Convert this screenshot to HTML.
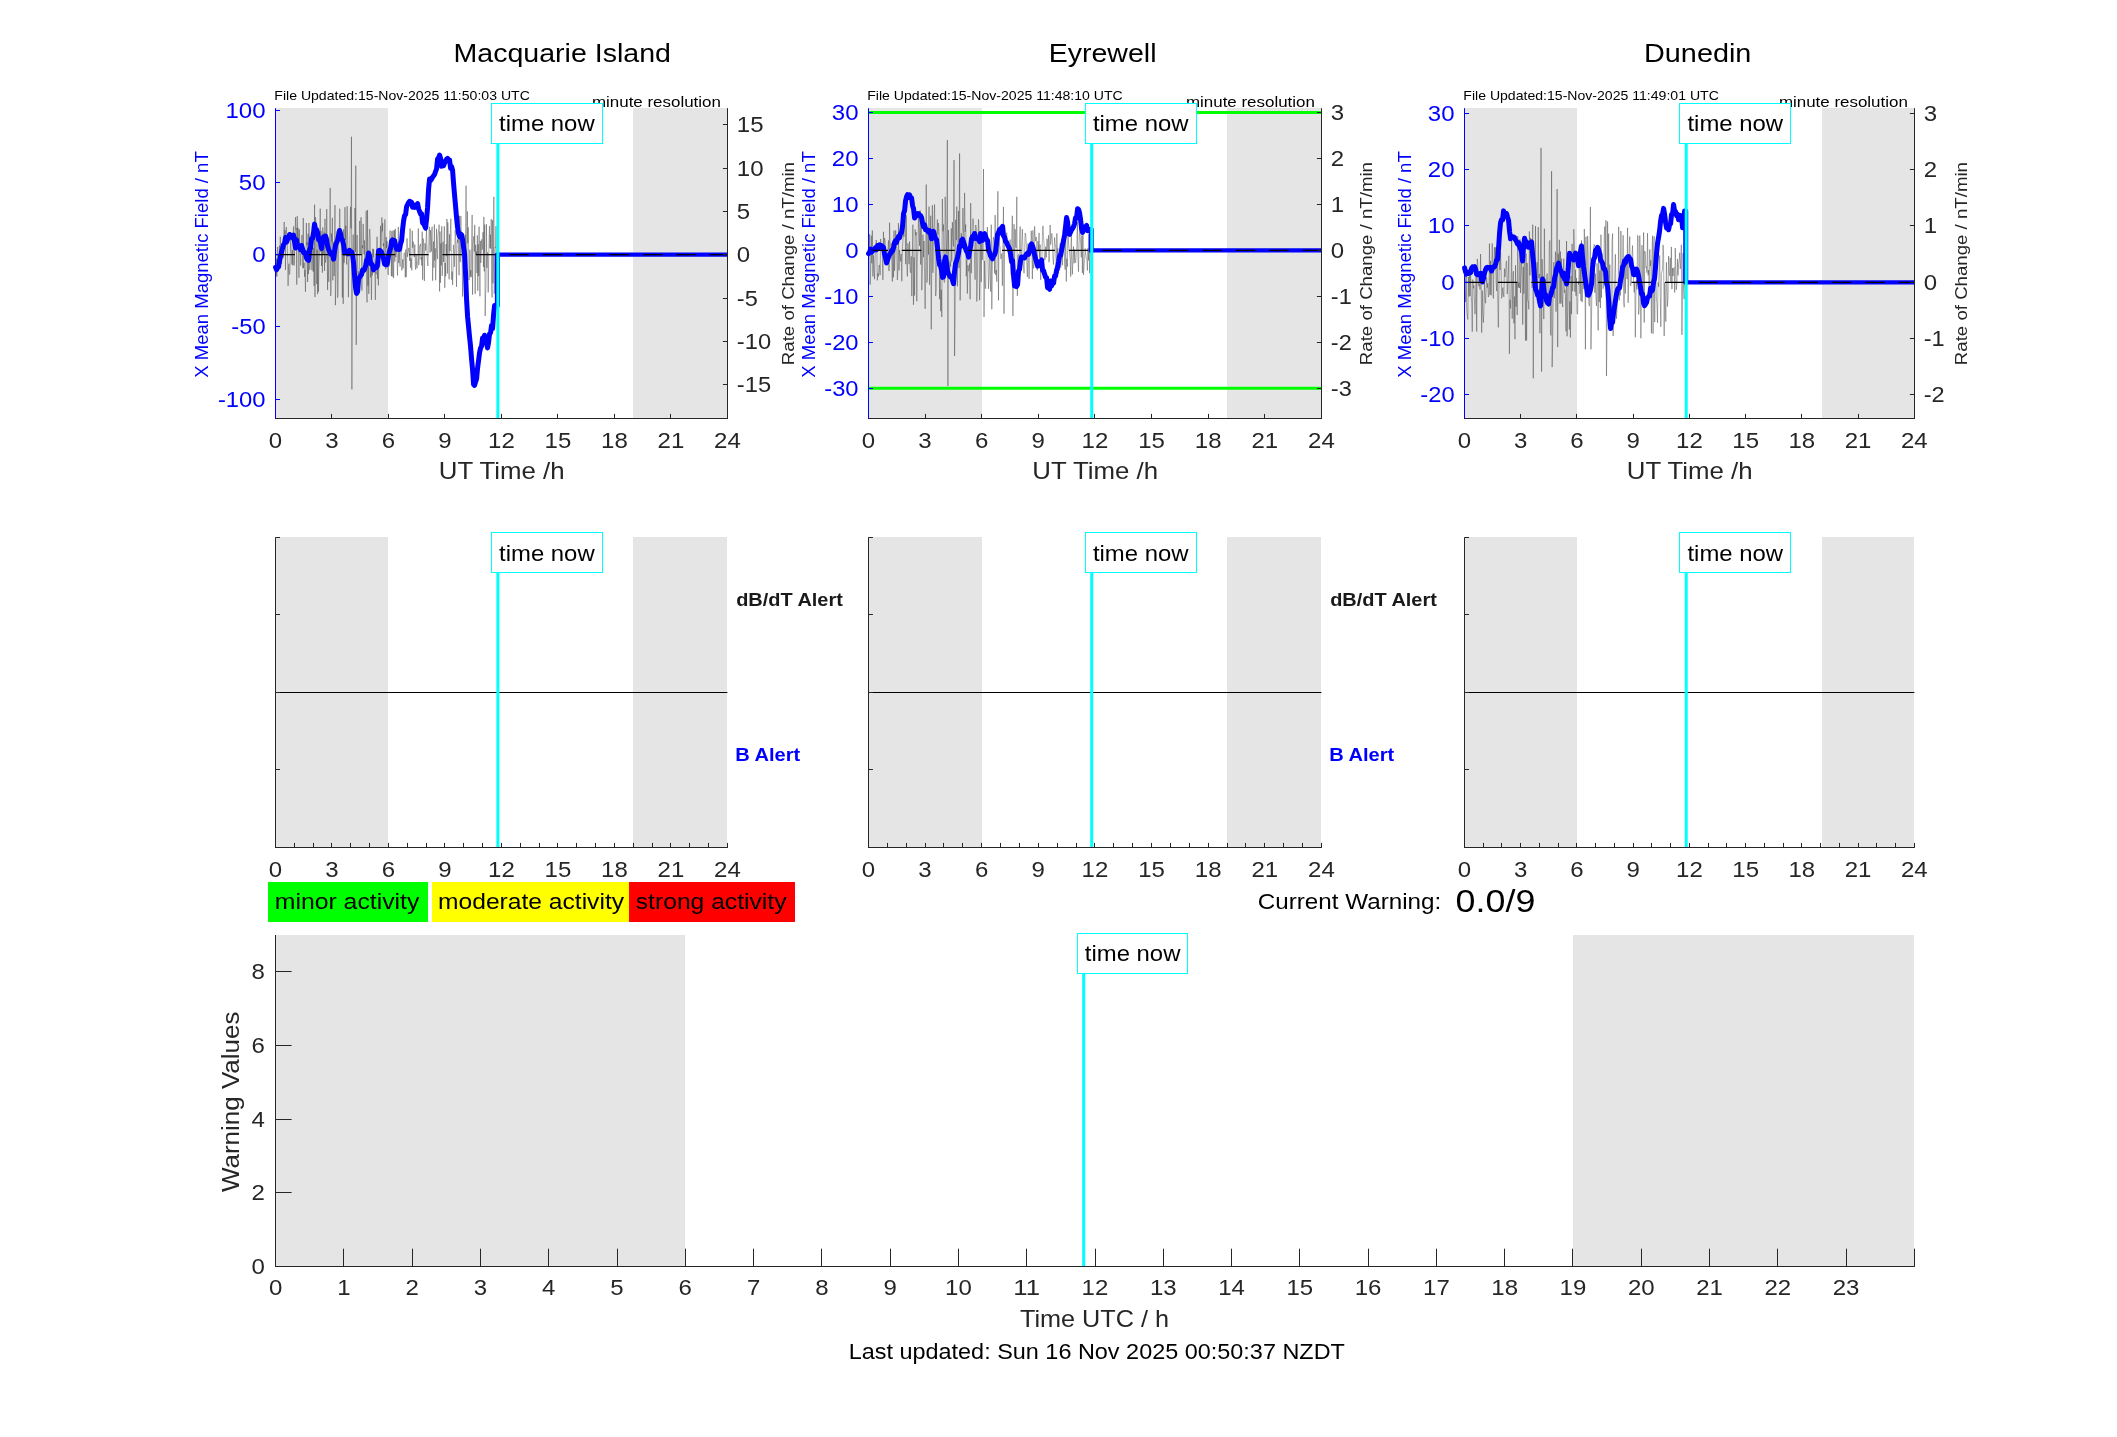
<!DOCTYPE html>
<html><head><meta charset="utf-8"><style>
html,body{margin:0;padding:0;background:#fff;overflow:hidden}
svg{display:block;will-change:transform}
text{font-family:"Liberation Sans",sans-serif}
</style></head><body>
<svg width="2117" height="1437" viewBox="0 0 2117 1437">
<rect x="0" y="0" width="2117" height="1437" fill="#ffffff"/>
<rect x="276" y="108" width="112" height="310" fill="#e5e5e5" stroke="none" stroke-width="0"/>
<rect x="633" y="108" width="94" height="310" fill="#e5e5e5" stroke="none" stroke-width="0"/>
<path d="M275.5 249.85 L275.93 276.48 L276.37 258.71 L276.8 276.5 L277.24 250.67 L277.67 247 L278.1 267.37 L278.54 259.48 L278.97 255.37 L279.41 245.55 L279.84 264.31 L280.27 236.71 L280.71 252.95 L281.14 256.44 L281.58 263.98 L282.01 246.11 L282.45 246.22 L282.88 252.1 L283.31 257.78 L283.75 237.64 L284.18 222.02 L284.62 248.87 L285.05 230.26 L285.48 269.91 L285.92 231.54 L286.35 227.03 L286.79 241.07 L287.22 238.14 L287.65 258.17 L288.09 285.92 L288.52 266.27 L288.96 263.67 L289.39 274.6 L289.82 273.36 L290.26 256.17 L290.69 235.86 L291.13 249.86 L291.56 253.86 L291.99 264.62 L292.43 250.12 L292.86 265.32 L293.3 230.18 L293.73 226.31 L294.16 265.35 L294.6 250.34 L295.03 244.84 L295.47 217.25 L295.9 229.68 L296.34 228.16 L296.77 284.64 L297.2 216.15 L297.64 240.76 L298.07 227.82 L298.51 236.3 L298.94 277.71 L299.37 229.38 L299.81 245.95 L300.24 247.17 L300.68 265.55 L301.11 249.94 L301.54 240.44 L301.98 234.9 L302.41 245.75 L302.85 268.24 L303.28 218.06 L303.71 267.9 L304.15 262.83 L304.58 276.81 L305.02 269.78 L305.45 291.7 L305.88 265.93 L306.32 222.99 L306.75 244.99 L307.19 242.28 L307.62 282.03 L308.05 233.75 L308.49 274.05 L308.92 222.96 L309.36 240.03 L309.79 269.79 L310.23 260.66 L310.66 256.94 L311.09 258.38 L311.53 240.62 L311.96 270.25 L312.4 225.51 L312.83 254.7 L313.26 271.74 L313.7 247.79 L314.13 285.88 L314.57 204.64 L315 297.03 L315.43 217.13 L315.87 221.87 L316.3 226.4 L316.74 284.07 L317.17 249.96 L317.6 294.09 L318.04 234.53 L318.47 291.71 L318.91 266.24 L319.34 257.97 L319.77 245.75 L320.21 208.59 L320.64 251.57 L321.08 230.89 L321.51 265.96 L321.94 248.77 L322.38 272.7 L322.81 227.39 L323.25 253.95 L323.68 241.19 L324.12 232.47 L324.55 270.93 L324.98 218.86 L325.42 262.63 L325.85 260.32 L326.29 256.31 L326.72 209.08 L327.15 249.91 L327.59 289.91 L328.02 237.71 L328.46 276.38 L328.89 281.91 L329.32 242.84 L329.76 235.86 L330.19 187.94 L330.63 295.92 L331.06 292.71 L331.49 233.56 L331.93 242.06 L332.36 217.82 L332.8 280.32 L333.23 242.1 L333.66 254.05 L334.1 276.09 L334.53 265.77 L334.97 205.02 L335.4 305.17 L335.83 285.44 L336.27 260.23 L336.7 254.77 L337.14 231.09 L337.57 297.73 L338.01 294.84 L338.44 257.16 L338.87 231.78 L339.31 233.6 L339.74 208.67 L340.18 236.45 L340.61 229.63 L341.04 238.26 L341.48 253.63 L341.91 256.45 L342.35 297.46 L342.78 239.74 L343.21 303.93 L343.65 229.3 L344.08 263.13 L344.52 255.48 L344.95 207.16 L345.38 240.19 L345.82 225.72 L346.25 251.81 L346.69 264.54 L347.12 206.21 L347.55 236.76 L347.99 248.11 L348.42 297.22 L348.86 263.91 L349.29 257.21 L349.72 250.28 L350.16 222.58 L350.59 206.95 L351.03 228.4 L351.46 136.73 L351.9 389.42 L352.33 258.68 L352.76 248.09 L353.2 234.55 L353.63 253.62 L354.07 254.61 L354.5 253.25 L354.93 207.92 L355.37 252.1 L355.8 165.68 L356.24 344.9 L356.67 271.52 L357.1 234.97 L357.54 262.82 L357.97 283.48 L358.41 271.34 L358.84 289.2 L359.27 275.14 L359.71 220.93 L360.14 252.13 L360.58 253.69 L361.01 217.32 L361.44 230.56 L361.88 290.64 L362.31 245.33 L362.75 248.19 L363.18 223.93 L363.61 243.85 L364.05 254.34 L364.48 240.41 L364.92 272.34 L365.35 253.28 L365.79 251.36 L366.22 210.73 L366.65 290.47 L367.09 302.36 L367.52 210.09 L367.96 285.76 L368.39 254.13 L368.82 293.85 L369.26 239.49 L369.69 228.94 L370.13 235.95 L370.56 277.48 L370.99 258.6 L371.43 300.01 L371.86 265.63 L372.3 275.47 L372.73 248.7 L373.16 257.13 L373.6 249.19 L374.03 259.11 L374.47 264.47 L374.9 272.46 L375.33 299.82 L375.77 271.93 L376.2 274.16 L376.64 263.99 L377.07 236.75 L377.5 278.87 L377.94 258.88 L378.37 285.45 L378.81 266.39 L379.24 249.6 L379.68 267.35 L380.11 255.3 L380.54 225.78 L380.98 257.25 L381.41 236.54 L381.85 217.45 L382.28 231.41 L382.71 223.23 L383.15 246.16 L383.58 243.37 L384.02 260.15 L384.45 237.87 L384.88 219.39 L385.32 242.09 L385.75 269.15 L386.19 236.99 L386.62 247.88 L387.05 240.99 L387.49 256.59 L387.92 273.63 L388.36 275.06 L388.79 260.78 L389.22 266.22 L389.66 238.04 L390.09 230.44 L390.53 250.53 L390.96 248 L391.39 276.08 L391.83 231.11 L392.26 276.64 L392.7 247.28 L393.13 230.35 L393.57 278.03 L394 253.38 L394.43 230.35 L394.87 261.69 L395.3 228.79 L395.74 257.28 L396.17 248.54 L396.6 249.2 L397.04 258.71 L397.47 275.55 L397.91 260.27 L398.34 226.94 L398.77 263.07 L399.21 252.07 L399.64 257.91 L400.08 266.61 L400.51 242.92 L400.94 240.37 L401.38 233.09 L401.81 270.47 L402.25 264.52 L402.68 259.37 L403.11 268.4 L403.55 262.72 L403.98 253.7 L404.42 252.75 L404.85 255.38 L405.29 277.37 L405.72 249.57 L406.15 277.14 L406.59 267.67 L407.02 238.37 L407.46 256.79 L407.89 252.96 L408.32 251.58 L408.76 247.86 L409.19 250.67 L409.63 260.98 L410.06 228.54 L410.49 267.79 L410.93 258.03 L411.36 259.78 L411.8 270.33 L412.23 230.71 L412.66 247.71 L413.1 241.72 L413.53 243.28 L413.97 257.06 L414.4 256.82 L414.83 244.49 L415.27 266.48 L415.7 269.6 L416.14 254.94 L416.57 265.01 L417 268.13 L417.44 262.01 L417.87 261.84 L418.31 228.41 L418.74 265.19 L419.18 258.8 L419.61 246 L420.04 246.24 L420.48 243.87 L420.91 259.45 L421.35 257.03 L421.78 265.65 L422.21 231.64 L422.65 279.64 L423.08 238.46 L423.52 241.29 L423.95 255.22 L424.38 280.91 L424.82 243.2 L425.25 243.96 L425.69 250.55 L426.12 238.97 L426.55 229.9 L426.99 255.86 L427.42 260.3 L427.86 265.98 L428.29 245.54 L428.72 245.02 L429.16 226.6 L429.59 228.16 L430.03 252.73 L430.46 230.13 L430.89 237.34 L431.33 251.56 L431.76 229.29 L432.2 226.75 L432.63 280.71 L433.07 250.79 L433.5 241.53 L433.93 267.7 L434.37 224.45 L434.8 260.47 L435.24 248.35 L435.67 280.25 L436.1 263.5 L436.54 228.77 L436.97 251.54 L437.41 259.04 L437.84 236.45 L438.27 232.62 L438.71 230.1 L439.14 224.67 L439.58 291.46 L440.01 231.51 L440.44 282.68 L440.88 243.53 L441.31 265.34 L441.75 226.29 L442.18 275.82 L442.61 267.37 L443.05 241.87 L443.48 261.9 L443.92 246.71 L444.35 226.34 L444.78 287.84 L445.22 263.05 L445.65 276.27 L446.09 244.21 L446.52 256.13 L446.96 218.97 L447.39 273.61 L447.82 222.42 L448.26 240.47 L448.69 252.59 L449.13 279.34 L449.56 234.23 L449.99 251.05 L450.43 229.83 L450.86 218.72 L451.3 253.36 L451.73 279.63 L452.16 271.56 L452.6 284.99 L453.03 270.58 L453.47 244.86 L453.9 250.43 L454.33 266.86 L454.77 250.05 L455.2 230.19 L455.64 237.6 L456.07 256.31 L456.5 286.79 L456.94 244.82 L457.37 239.37 L457.81 242.79 L458.24 239.37 L458.67 255.06 L459.11 275.34 L459.54 215.77 L459.98 261.63 L460.41 261.93 L460.85 215.95 L461.28 250.09 L461.71 255.08 L462.15 258.96 L462.58 296.55 L463.02 263.6 L463.45 246.64 L463.88 249.07 L464.32 246.53 L464.75 285.88 L465.19 234.8 L465.62 252.67 L466.05 185.71 L466.49 300.37 L466.92 284.56 L467.36 211.34 L467.79 243.23 L468.22 227.35 L468.66 252.11 L469.09 280.18 L469.53 267.43 L469.96 249.74 L470.39 276.66 L470.83 269.94 L471.26 277.24 L471.7 245.33 L472.13 214.94 L472.56 294.69 L473 243.94 L473.43 239.88 L473.87 236.11 L474.3 251.61 L474.74 224.85 L475.17 293.86 L475.6 244.85 L476.04 254.06 L476.47 251.52 L476.91 273.03 L477.34 235.36 L477.77 290.69 L478.21 244.27 L478.64 276.1 L479.08 226.7 L479.51 264.71 L479.94 296.28 L480.38 240.87 L480.81 262.9 L481.25 253.79 L481.68 239.32 L482.11 249.57 L482.55 247.11 L482.98 232.08 L483.42 266.84 L483.85 216.92 L484.28 271.45 L484.72 224.67 L485.15 315.95 L485.59 293.32 L486.02 285.16 L486.45 224.23 L486.89 267.96 L487.32 254.18 L487.76 252.12 L488.19 292.47 L488.63 266.9 L489.06 239.59 L489.49 226.1 L489.93 248.25 L490.36 234.66 L490.8 248.66 L491.23 219.02 L491.66 285.1 L492.1 297.39 L492.53 220.2 L492.97 283.31 L493.4 267.46 L493.83 196.85 L494.27 293.69 L494.7 263.18 L495.14 247.16 L495.57 247.82 L496 226.06 L496.44 271.51 L496.87 261.49" fill="none" stroke="#3c3c3c" stroke-width="0.42" stroke-linejoin="round" stroke-linecap="round" stroke-linecap="butt" stroke-linejoin="miter"/>
<path d="M275.57 267.32 L276.57 269.79 L277.57 267.59 L278.57 266.9 L279.57 260.42 L280.57 256.43 L281.57 251.87 L282.57 248.13 L283.57 244.58 L284.57 243.18 L285.57 237.54 L286.57 242.15 L287.57 239.41 L288.57 237.58 L289.57 234.47 L290.57 235.05 L291.57 237.29 L292.57 238.02 L293.57 235.14 L294.57 241.85 L295.57 248.09 L296.57 239.85 L297.57 246.39 L298.57 246.17 L299.57 246.07 L300.57 249.72 L301.57 245.49 L302.57 248.86 L303.57 252.49 L304.57 252 L305.57 254.32 L306.57 258.11 L307.57 259.77 L308.57 260.36 L309.57 249.9 L310.57 247.71 L311.57 238.53 L312.57 238.28 L313.57 232.77 L314.57 224.13 L315.57 230.5 L316.57 229.76 L317.57 232.31 L318.57 239.62 L319.57 238.76 L320.57 243.21 L321.57 248.52 L322.57 239.44 L323.57 236.86 L324.57 236.48 L325.57 236.12 L326.57 239.72 L327.57 245.84 L328.57 249.27 L329.57 251.44 L330.57 254.02 L331.57 254.37 L332.57 254.12 L333.57 259.15 L334.57 251.4 L335.57 245.17 L336.57 242.45 L337.57 240.35 L338.57 235.6 L339.57 230.43 L340.57 233.77 L341.57 239.37 L342.57 240.06 L343.57 244.78 L344.57 252.89 L345.57 250.45 L346.57 252.12 L347.57 253.77 L348.57 252.23 L349.57 250.33 L350.57 253.78 L351.57 251.99 L352.57 255 L353.57 262.82 L354.57 276.19 L355.57 287.72 L356.57 293.43 L357.57 291.73 L358.57 278.83 L359.57 277.26 L360.57 276.04 L361.57 274.45 L362.57 270.09 L363.57 270.61 L364.57 269.23 L365.57 266.09 L366.57 260.17 L367.57 260.12 L368.57 253.01 L369.57 255.65 L370.57 263.64 L371.57 263.75 L372.57 265.44 L373.57 269.87 L374.57 268.36 L375.57 267.69 L376.57 267.7 L377.57 264.11 L378.57 250.76 L379.57 250.25 L380.57 250.9 L381.57 252.25 L382.57 255.7 L383.57 258.73 L384.57 263.95 L385.57 264.63 L386.57 264.82 L387.57 262.37 L388.57 255.45 L389.57 251.13 L390.57 248.06 L391.57 241.04 L392.57 239.84 L393.57 241.62 L394.57 240.63 L395.57 245.39 L396.57 249.21 L397.57 248.6 L398.57 249.51 L399.57 249.41 L400.57 243.62 L401.57 240.94 L402.57 229.59 L403.57 220.98 L404.57 215.54 L405.57 214.67 L406.57 206.79 L407.57 204.56 L408.57 202.5 L409.57 201.26 L410.57 201.84 L411.57 202.29 L412.57 207.17 L413.57 205 L414.57 207.39 L415.57 205.16 L416.57 205.79 L417.57 203.57 L418.57 208.74 L419.57 211.51 L420.57 214.04 L421.57 213.75 L422.57 222.84 L423.57 223.77 L424.57 225.74 L425.57 228.09 L426.57 219.3 L427.57 207.5 L428.57 189.33 L429.57 179.11 L430.57 180.43 L431.57 179.15 L432.57 177.16 L433.57 175.79 L434.57 174.29 L435.57 171.5 L436.57 168.85 L437.57 159.01 L438.57 157.91 L439.57 155 L440.57 158.53 L441.57 166.33 L442.57 164.06 L443.57 165.55 L444.57 162.92 L445.57 160.59 L446.57 159.15 L447.57 158.29 L448.57 160.79 L449.57 160.05 L450.57 168.2 L451.57 166.56 L452.57 170.08 L453.57 183.55 L454.57 195.14 L455.57 206.17 L456.57 217.86 L457.57 227.42 L458.57 233.57 L459.57 236.88 L460.57 233.92 L461.57 234.81 L462.57 239.56 L463.57 247.17 L464.57 254.01 L465.57 274.24 L466.57 299.54 L467.57 316.52 L468.57 326.66 L469.57 336.9 L470.57 346.59 L471.57 359.07 L472.57 369.82 L473.57 384.4 L474.57 385.37 L475.57 381.81 L476.57 379.01 L477.57 368.08 L478.57 360.45 L479.57 352.53 L480.57 348.09 L481.57 346.12 L482.57 338.14 L483.57 338.82 L484.57 335.25 L485.57 340.09 L486.57 343.37 L487.57 347.89 L488.57 342.32 L489.57 333.81 L490.57 332.77 L491.57 325.41 L492.57 328.54 L493.57 314.63 L494.57 305.55 L497.37 305.55 L497.37 254.7" fill="none" stroke="#0000ff" stroke-width="5" stroke-linejoin="round" stroke-linecap="round" />
<line x1="497.37" y1="254.7" x2="727.4" y2="254.7" stroke="#0000ff" stroke-width="4.3" />
<line x1="275.5" y1="254.7" x2="727.4" y2="254.7" stroke="#000000" stroke-width="1.3" stroke-dasharray="19.5 13.9"/>
<line x1="497.87" y1="143.2" x2="497.87" y2="418.4" stroke="#00ffff" stroke-width="3" />
<line x1="275" y1="418.5" x2="727.9" y2="418.5" stroke="#262626" stroke-width="1" />
<line x1="727.5" y1="108.2" x2="727.5" y2="418.4" stroke="#262626" stroke-width="1" />
<line x1="275.5" y1="110.5" x2="280" y2="110.5" stroke="#0000ff" stroke-width="1" />
<text x="265.6" y="117.78" font-size="22.9" fill="#0000ff" text-anchor="end" textLength="40.08" lengthAdjust="spacingAndGlyphs">100</text>
<line x1="275.5" y1="182.5" x2="280" y2="182.5" stroke="#0000ff" stroke-width="1" />
<text x="265.6" y="189.99" font-size="22.9" fill="#0000ff" text-anchor="end" textLength="26.72" lengthAdjust="spacingAndGlyphs">50</text>
<line x1="275.5" y1="254.5" x2="280" y2="254.5" stroke="#0000ff" stroke-width="1" />
<text x="265.6" y="262.2" font-size="22.9" fill="#0000ff" text-anchor="end" textLength="13.36" lengthAdjust="spacingAndGlyphs">0</text>
<line x1="275.5" y1="326.5" x2="280" y2="326.5" stroke="#0000ff" stroke-width="1" />
<text x="265.6" y="334.41" font-size="22.9" fill="#0000ff" text-anchor="end" textLength="34.3" lengthAdjust="spacingAndGlyphs">-50</text>
<line x1="275.5" y1="399.5" x2="280" y2="399.5" stroke="#0000ff" stroke-width="1" />
<text x="265.6" y="406.62" font-size="22.9" fill="#0000ff" text-anchor="end" textLength="47.66" lengthAdjust="spacingAndGlyphs">-100</text>
<line x1="727.4" y1="124.5" x2="722.9" y2="124.5" stroke="#262626" stroke-width="1" />
<text x="736.8" y="132.22" font-size="22.9" fill="#262626" text-anchor="start" textLength="26.72" lengthAdjust="spacingAndGlyphs">15</text>
<line x1="727.4" y1="168.5" x2="722.9" y2="168.5" stroke="#262626" stroke-width="1" />
<text x="736.8" y="175.55" font-size="22.9" fill="#262626" text-anchor="start" textLength="26.72" lengthAdjust="spacingAndGlyphs">10</text>
<line x1="727.4" y1="211.5" x2="722.9" y2="211.5" stroke="#262626" stroke-width="1" />
<text x="736.8" y="218.87" font-size="22.9" fill="#262626" text-anchor="start" textLength="13.36" lengthAdjust="spacingAndGlyphs">5</text>
<line x1="727.4" y1="254.5" x2="722.9" y2="254.5" stroke="#262626" stroke-width="1" />
<text x="736.8" y="262.2" font-size="22.9" fill="#262626" text-anchor="start" textLength="13.36" lengthAdjust="spacingAndGlyphs">0</text>
<line x1="727.4" y1="298.5" x2="722.9" y2="298.5" stroke="#262626" stroke-width="1" />
<text x="736.8" y="305.53" font-size="22.9" fill="#262626" text-anchor="start" textLength="20.94" lengthAdjust="spacingAndGlyphs">-5</text>
<line x1="727.4" y1="341.5" x2="722.9" y2="341.5" stroke="#262626" stroke-width="1" />
<text x="736.8" y="348.85" font-size="22.9" fill="#262626" text-anchor="start" textLength="34.3" lengthAdjust="spacingAndGlyphs">-10</text>
<line x1="727.4" y1="384.5" x2="722.9" y2="384.5" stroke="#262626" stroke-width="1" />
<text x="736.8" y="392.18" font-size="22.9" fill="#262626" text-anchor="start" textLength="34.3" lengthAdjust="spacingAndGlyphs">-15</text>
<line x1="275.5" y1="418.4" x2="275.5" y2="413.9" stroke="#262626" stroke-width="1" />
<text x="275.5" y="448.3" font-size="22.9" fill="#262626" text-anchor="middle" textLength="13.36" lengthAdjust="spacingAndGlyphs">0</text>
<line x1="331.5" y1="418.4" x2="331.5" y2="413.9" stroke="#262626" stroke-width="1" />
<text x="331.99" y="448.3" font-size="22.9" fill="#262626" text-anchor="middle" textLength="13.36" lengthAdjust="spacingAndGlyphs">3</text>
<line x1="388.5" y1="418.4" x2="388.5" y2="413.9" stroke="#262626" stroke-width="1" />
<text x="388.48" y="448.3" font-size="22.9" fill="#262626" text-anchor="middle" textLength="13.36" lengthAdjust="spacingAndGlyphs">6</text>
<line x1="444.5" y1="418.4" x2="444.5" y2="413.9" stroke="#262626" stroke-width="1" />
<text x="444.96" y="448.3" font-size="22.9" fill="#262626" text-anchor="middle" textLength="13.36" lengthAdjust="spacingAndGlyphs">9</text>
<line x1="501.5" y1="418.4" x2="501.5" y2="413.9" stroke="#262626" stroke-width="1" />
<text x="501.45" y="448.3" font-size="22.9" fill="#262626" text-anchor="middle" textLength="26.72" lengthAdjust="spacingAndGlyphs">12</text>
<line x1="557.5" y1="418.4" x2="557.5" y2="413.9" stroke="#262626" stroke-width="1" />
<text x="557.94" y="448.3" font-size="22.9" fill="#262626" text-anchor="middle" textLength="26.72" lengthAdjust="spacingAndGlyphs">15</text>
<line x1="614.5" y1="418.4" x2="614.5" y2="413.9" stroke="#262626" stroke-width="1" />
<text x="614.42" y="448.3" font-size="22.9" fill="#262626" text-anchor="middle" textLength="26.72" lengthAdjust="spacingAndGlyphs">18</text>
<line x1="670.5" y1="418.4" x2="670.5" y2="413.9" stroke="#262626" stroke-width="1" />
<text x="670.91" y="448.3" font-size="22.9" fill="#262626" text-anchor="middle" textLength="26.72" lengthAdjust="spacingAndGlyphs">21</text>
<line x1="727.5" y1="418.4" x2="727.5" y2="413.9" stroke="#262626" stroke-width="1" />
<text x="727.4" y="448.3" font-size="22.9" fill="#262626" text-anchor="middle" textLength="26.72" lengthAdjust="spacingAndGlyphs">24</text>
<line x1="275.5" y1="108.2" x2="275.5" y2="418.4" stroke="#0000ff" stroke-width="1" />
<text x="501.75" y="479" font-size="23.52" fill="#262626" text-anchor="middle" textLength="125.72" lengthAdjust="spacingAndGlyphs">UT Time /h</text>
<text x="562.2" y="62.2" font-size="25.93" fill="#000000" text-anchor="middle" textLength="217.4" lengthAdjust="spacingAndGlyphs">Macquarie Island</text>
<text transform="translate(207.8,264.5) rotate(-90)" x="0" y="0" font-size="17.43" fill="#0000ff" text-anchor="middle" textLength="226.47" lengthAdjust="spacingAndGlyphs">X Mean Magnetic Field / nT</text>
<text transform="translate(794.3,263.6) rotate(-90)" x="0" y="0" font-size="17.32" fill="#262626" text-anchor="middle" textLength="203.07" lengthAdjust="spacingAndGlyphs">Rate of Change / nT/min</text>
<text x="274.3" y="100.1" font-size="13.18" fill="#000000" text-anchor="start" textLength="255.51" lengthAdjust="spacingAndGlyphs">File Updated:15-Nov-2025 11:50:03 UTC</text>
<text x="720.9" y="106.8" font-size="15.07" fill="#000000" text-anchor="end" textLength="128.94" lengthAdjust="spacingAndGlyphs">minute resolution</text>
<rect x="491.5" y="103.5" width="111" height="40" fill="#ffffff" stroke="#00ffff" stroke-width="1"/>
<text x="546.87" y="130.8" font-size="21.63" fill="#000000" text-anchor="middle" textLength="95.6" lengthAdjust="spacingAndGlyphs">time now</text>
<rect x="868" y="108" width="114" height="310" fill="#e5e5e5" stroke="none" stroke-width="0"/>
<rect x="1227" y="108" width="94" height="310" fill="#e5e5e5" stroke="none" stroke-width="0"/>
<path d="M868.45 233.69 L869.01 247.26 L869.56 234.15 L870.12 284.68 L870.67 268.74 L871.23 235.66 L871.78 263.31 L872.34 230.45 L872.9 276.42 L873.45 255.24 L874.01 269.69 L874.56 279.21 L875.12 256.29 L875.67 245.62 L876.23 239.97 L876.78 246.24 L877.34 280.39 L877.9 273.43 L878.45 276.37 L879.01 265.1 L879.56 265.04 L880.12 275.09 L880.67 238.96 L881.23 250.89 L881.79 243.21 L882.34 251.23 L882.9 279.85 L883.45 231.76 L884.01 256.14 L884.56 237.95 L885.12 240.86 L885.68 253.08 L886.23 255.86 L886.79 262.95 L887.34 255.78 L887.9 250.6 L888.45 240.35 L889.01 271.08 L889.57 222.7 L890.12 249.39 L890.68 258.21 L891.23 242.87 L891.79 261.56 L892.34 281.51 L892.9 244.82 L893.45 277.34 L894.01 230.55 L894.57 270.81 L895.12 251.91 L895.68 230.34 L896.23 246.13 L896.79 248.84 L897.34 279.89 L897.9 268.95 L898.46 223.21 L899.01 270.41 L899.57 249.97 L900.12 255.15 L900.68 261.46 L901.23 254.09 L901.79 281.23 L902.35 249.23 L902.9 240.59 L903.46 233.42 L904.01 236.56 L904.57 219.35 L905.12 217.43 L905.68 264.18 L906.24 215.25 L906.79 261.63 L907.35 276.38 L907.9 243.36 L908.46 249.86 L909.01 264.12 L909.57 241.43 L910.12 270.03 L910.68 272.77 L911.24 256.35 L911.79 296.12 L912.35 256 L912.9 224.67 L913.46 304.82 L914.01 257.31 L914.57 295.53 L915.13 229.41 L915.68 235.4 L916.24 232.16 L916.79 301.22 L917.35 254.14 L917.9 253.65 L918.46 215.5 L919.02 232.9 L919.57 245.77 L920.13 210.45 L920.68 264.51 L921.24 221.5 L921.79 290.16 L922.35 268.51 L922.91 234.68 L923.46 257.19 L924.02 241 L924.57 274.4 L925.13 308.83 L925.68 266.25 L926.24 184.6 L926.79 282.56 L927.35 280.82 L927.91 232.25 L928.46 254.64 L929.02 206.6 L929.57 284.83 L930.13 264.61 L930.68 215.77 L931.24 329.31 L931.8 254.74 L932.35 205.26 L932.91 272.78 L933.46 232.58 L934.02 223.57 L934.57 204.49 L935.13 249.71 L935.69 295.99 L936.24 288.84 L936.8 234.34 L937.35 219.49 L937.91 234.83 L938.46 223.02 L939.02 231.28 L939.58 299.25 L940.13 265.92 L940.69 311.23 L941.24 289.73 L941.8 316.99 L942.35 199 L942.91 231.32 L943.46 224.53 L944.02 281.37 L944.58 282.41 L945.13 196.79 L945.69 217.74 L946.24 254.01 L946.8 237.54 L947.35 140.07 L947.91 386.08 L948.47 230.04 L949.02 258.56 L949.58 273.15 L950.13 261.36 L950.69 266.58 L951.24 228.39 L951.8 261.47 L952.36 222.11 L952.91 240.61 L953.47 246.48 L954.02 160.11 L954.58 356.03 L955.13 308.1 L955.69 219.72 L956.25 240.1 L956.8 206.65 L957.36 286.32 L957.91 262.3 L958.47 211.09 L959.02 267.97 L959.58 153.43 L960.13 300.37 L960.69 266.09 L961.25 233.25 L961.8 238.08 L962.36 230 L962.91 208.02 L963.47 229.55 L964.02 237.94 L964.58 192.86 L965.14 231.92 L965.69 224.48 L966.25 276.26 L966.8 259.71 L967.36 293.59 L967.91 265.19 L968.47 271.26 L969.03 270.31 L969.58 263.54 L970.14 299.22 L970.69 203 L971.25 273.19 L971.8 246.97 L972.36 225.66 L972.92 218.57 L973.47 221.7 L974.03 238.6 L974.58 263.85 L975.14 279.71 L975.69 224.97 L976.25 228.51 L976.8 301.43 L977.36 278.77 L977.92 245.95 L978.47 219.37 L979.03 231 L979.58 300.15 L980.14 280.16 L980.69 243.01 L981.25 281.92 L981.81 236.76 L982.36 259.94 L982.92 235.53 L983.47 169.02 L984.03 317.07 L984.58 260.93 L985.14 285.77 L985.7 288.68 L986.25 240.69 L986.81 252.41 L987.36 227 L987.92 259.47 L988.47 288.84 L989.03 274.93 L989.59 246.09 L990.14 276.71 L990.7 291.6 L991.25 224.67 L991.81 309.27 L992.36 264.9 L992.92 242.22 L993.47 237.16 L994.03 244.26 L994.59 273.34 L995.14 215.11 L995.7 274.99 L996.25 270.01 L996.81 281.61 L997.36 225.28 L997.92 191.28 L998.48 300.37 L999.03 237.14 L999.59 244.97 L1000.14 247.93 L1000.7 258.87 L1001.25 258.17 L1001.81 253.53 L1002.37 285.72 L1002.92 244.13 L1003.48 206.86 L1004.03 313.73 L1004.59 239.94 L1005.14 243.27 L1005.7 242.9 L1006.26 236.91 L1006.81 232.61 L1007.37 249.32 L1007.92 251.96 L1008.48 241.39 L1009.03 257.07 L1009.59 248.07 L1010.14 239.59 L1010.7 255.98 L1011.26 275.23 L1011.81 234.96 L1012.37 215.77 L1012.92 315.95 L1013.48 251.68 L1014.03 224.25 L1014.59 276.39 L1015.15 229.26 L1015.7 246.77 L1016.26 248.05 L1016.81 196.85 L1017.37 295.92 L1017.92 255.44 L1018.48 254.4 L1019.04 281.5 L1019.59 239.99 L1020.15 226.49 L1020.7 259.12 L1021.26 263.91 L1021.81 239.81 L1022.37 229.18 L1022.93 248.66 L1023.48 265.84 L1024.04 273.3 L1024.59 253.04 L1025.15 232.98 L1025.7 234.98 L1026.26 243.49 L1026.81 263.18 L1027.37 276.95 L1027.93 243.47 L1028.48 260.68 L1029.04 278.91 L1029.59 262.01 L1030.15 243.19 L1030.7 252.49 L1031.26 230.86 L1031.82 244.23 L1032.37 279.05 L1032.93 230.3 L1033.48 268.36 L1034.04 264.49 L1034.59 226.29 L1035.15 236.98 L1035.71 241.06 L1036.26 236.95 L1036.82 257.33 L1037.37 270.43 L1037.93 241.03 L1038.48 251.35 L1039.04 232.86 L1039.6 257.9 L1040.15 244.61 L1040.71 279.85 L1041.26 261.93 L1041.82 265.72 L1042.37 236.35 L1042.93 225.84 L1043.48 235.82 L1044.04 243.94 L1044.6 260.14 L1045.15 259.83 L1045.71 246.66 L1046.26 257.5 L1046.82 238.73 L1047.37 240.19 L1047.93 249.83 L1048.49 235.23 L1049.04 262.2 L1049.6 245 L1050.15 225.01 L1050.71 244.66 L1051.26 238.8 L1051.82 233.38 L1052.38 239.5 L1052.93 257.74 L1053.49 264.5 L1054.04 252.47 L1054.6 237.51 L1055.15 243.85 L1055.71 247.29 L1056.27 278.7 L1056.82 233.43 L1057.38 253.83 L1057.93 248.43 L1058.49 273.22 L1059.04 257.23 L1059.6 270.51 L1060.15 243.34 L1060.71 267.59 L1061.27 252.98 L1061.82 250.5 L1062.38 265.2 L1062.93 234.99 L1063.49 249.65 L1064.04 237.49 L1064.6 263.73 L1065.16 269.7 L1065.71 230.91 L1066.27 281.5 L1066.82 258.74 L1067.38 266.68 L1067.93 224.06 L1068.49 241.89 L1069.05 248.7 L1069.6 253.07 L1070.16 258.54 L1070.71 276.6 L1071.27 225.96 L1071.82 259.23 L1072.38 274.34 L1072.94 257.55 L1073.49 246.47 L1074.05 263.4 L1074.6 249.55 L1075.16 261.04 L1075.71 262.73 L1076.27 252.93 L1076.82 245.88 L1077.38 222.33 L1077.94 257.89 L1078.49 271.58 L1079.05 244.87 L1079.6 226.25 L1080.16 236.01 L1080.71 244.17 L1081.27 257.29 L1081.83 235.53 L1082.38 272.91 L1082.94 227.01 L1083.49 274.78 L1084.05 266 L1084.6 259.58 L1085.16 248.39 L1085.72 253.98 L1086.27 258.15 L1086.83 258.51 L1087.38 270.5 L1087.94 247.89 L1088.49 260.38 L1089.05 234.1 L1089.61 273.28 L1090.16 252.05 L1090.72 238.08" fill="none" stroke="#3c3c3c" stroke-width="0.42" stroke-linejoin="round" stroke-linecap="round" stroke-linecap="butt" stroke-linejoin="miter"/>
<line x1="868.45" y1="112.43" x2="1321.4" y2="112.43" stroke="#00ff00" stroke-width="3" />
<line x1="868.45" y1="388.37" x2="1321.4" y2="388.37" stroke="#00ff00" stroke-width="3" />
<path d="M868.57 253.6 L869.57 252.37 L870.57 249.18 L871.57 252.3 L872.57 250.37 L873.57 249.59 L874.57 249.99 L875.57 247.49 L876.57 249.68 L877.57 245.5 L878.57 247.71 L879.57 244.76 L880.57 247.21 L881.57 245.55 L882.57 246.62 L883.57 247.62 L884.57 254.25 L885.57 258.26 L886.57 262.96 L887.57 260.05 L888.57 256.74 L889.57 254.53 L890.57 253.56 L891.57 250.51 L892.57 251.1 L893.57 247.86 L894.57 242.33 L895.57 240.61 L896.57 242.51 L897.57 238.55 L898.57 236.27 L899.57 237.71 L900.57 233.47 L901.57 232.43 L902.57 225.84 L903.57 213.49 L904.57 210.69 L905.57 200.75 L906.57 196.62 L907.57 194.62 L908.57 195.75 L909.57 194.85 L910.57 198.09 L911.57 197.95 L912.57 205.67 L913.57 208.86 L914.57 218.08 L915.57 216.58 L916.57 213.54 L917.57 215.23 L918.57 213.68 L919.57 215.14 L920.57 215.61 L921.57 217.67 L922.57 223.21 L923.57 226.8 L924.57 224.66 L925.57 229.8 L926.57 229.44 L927.57 230.96 L928.57 232.02 L929.57 230.77 L930.57 232.9 L931.57 238.83 L932.57 235.18 L933.57 231.34 L934.57 235.53 L935.57 238.18 L936.57 239.86 L937.57 248.01 L938.57 258.31 L939.57 264.78 L940.57 266.17 L941.57 270.37 L942.57 277.38 L943.57 276.88 L944.57 260.74 L945.57 256.8 L946.57 263.8 L947.57 271.03 L948.57 273.9 L949.57 276.04 L950.57 277.1 L951.57 276.59 L952.57 280.44 L953.57 283.73 L954.57 271.23 L955.57 263.36 L956.57 260.58 L957.57 257.19 L958.57 252.94 L959.57 245.93 L960.57 246.67 L961.57 240.28 L962.57 239.09 L963.57 242.09 L964.57 245.04 L965.57 248.71 L966.57 251.2 L967.57 252.64 L968.57 257.12 L969.57 251.11 L970.57 246.65 L971.57 238.64 L972.57 236.32 L973.57 238.78 L974.57 233.5 L975.57 236.9 L976.57 238.62 L977.57 239.21 L978.57 238.79 L979.57 241.63 L980.57 233.51 L981.57 238.95 L982.57 240.3 L983.57 234.65 L984.57 233.77 L985.57 236.19 L986.57 239.31 L987.57 240.58 L988.57 250 L989.57 252.59 L990.57 256.01 L991.57 257.25 L992.57 258.74 L993.57 255.35 L994.57 254.91 L995.57 251.45 L996.57 242.46 L997.57 234.45 L998.57 232.44 L999.57 229.48 L1000.57 233.04 L1001.57 227.8 L1002.57 226.37 L1003.57 236.1 L1004.57 237 L1005.57 241.39 L1006.57 242.39 L1007.57 244.9 L1008.57 246.75 L1009.57 248.81 L1010.57 253.98 L1011.57 261.77 L1012.57 260.46 L1013.57 275.84 L1014.57 285.96 L1015.57 285.14 L1016.57 286.53 L1017.57 284.8 L1018.57 270.99 L1019.57 269.18 L1020.57 260.74 L1021.57 256.94 L1022.57 257.36 L1023.57 257.33 L1024.57 257.93 L1025.57 255.51 L1026.57 253.96 L1027.57 253.02 L1028.57 254.25 L1029.57 251.3 L1030.57 245.51 L1031.57 243.87 L1032.57 246.05 L1033.57 249.24 L1034.57 254.71 L1035.57 258.54 L1036.57 262.36 L1037.57 266.16 L1038.57 265.89 L1039.57 261.68 L1040.57 263.27 L1041.57 259.92 L1042.57 270.46 L1043.57 270.63 L1044.57 274.08 L1045.57 277.19 L1046.57 277.77 L1047.57 287.85 L1048.57 288.02 L1049.57 289.33 L1050.57 281.06 L1051.57 286.03 L1052.57 281.6 L1053.57 283.12 L1054.57 276.11 L1055.57 276.2 L1056.57 270.28 L1057.57 267.23 L1058.57 261.87 L1059.57 255.53 L1060.57 255.5 L1061.57 250.46 L1062.57 244.94 L1063.57 240.39 L1064.57 235.13 L1065.57 226.5 L1066.57 217.46 L1067.57 222.05 L1068.57 233.74 L1069.57 234.3 L1070.57 232.14 L1071.57 229.72 L1072.57 228.61 L1073.57 226.59 L1074.57 223.69 L1075.57 217.67 L1076.57 217.78 L1077.57 208.76 L1078.57 209.34 L1079.57 213.02 L1080.57 219.61 L1081.57 228.36 L1082.57 232.43 L1083.57 229.24 L1084.57 228.42 L1085.57 226.41 L1086.57 225.42 L1087.57 230.66 L1088.57 229.56 L1091.22 229.56 L1091.22 250.4" fill="none" stroke="#0000ff" stroke-width="5" stroke-linejoin="round" stroke-linecap="round" />
<line x1="1091.22" y1="250.4" x2="1321.4" y2="250.4" stroke="#0000ff" stroke-width="4.3" />
<line x1="868.45" y1="250.4" x2="1321.4" y2="250.4" stroke="#000000" stroke-width="1.3" stroke-dasharray="19.5 13.9"/>
<line x1="1091.72" y1="143.2" x2="1091.72" y2="418.4" stroke="#00ffff" stroke-width="3" />
<line x1="867.95" y1="418.5" x2="1321.9" y2="418.5" stroke="#262626" stroke-width="1" />
<line x1="1321.5" y1="108.2" x2="1321.5" y2="418.4" stroke="#262626" stroke-width="1" />
<line x1="868.45" y1="112.5" x2="872.95" y2="112.5" stroke="#0000ff" stroke-width="1" />
<text x="858.55" y="119.93" font-size="22.9" fill="#0000ff" text-anchor="end" textLength="26.72" lengthAdjust="spacingAndGlyphs">30</text>
<line x1="868.45" y1="158.5" x2="872.95" y2="158.5" stroke="#0000ff" stroke-width="1" />
<text x="858.55" y="165.92" font-size="22.9" fill="#0000ff" text-anchor="end" textLength="26.72" lengthAdjust="spacingAndGlyphs">20</text>
<line x1="868.45" y1="204.5" x2="872.95" y2="204.5" stroke="#0000ff" stroke-width="1" />
<text x="858.55" y="211.91" font-size="22.9" fill="#0000ff" text-anchor="end" textLength="26.72" lengthAdjust="spacingAndGlyphs">10</text>
<line x1="868.45" y1="250.5" x2="872.95" y2="250.5" stroke="#0000ff" stroke-width="1" />
<text x="858.55" y="257.9" font-size="22.9" fill="#0000ff" text-anchor="end" textLength="13.36" lengthAdjust="spacingAndGlyphs">0</text>
<line x1="868.45" y1="296.5" x2="872.95" y2="296.5" stroke="#0000ff" stroke-width="1" />
<text x="858.55" y="303.89" font-size="22.9" fill="#0000ff" text-anchor="end" textLength="34.3" lengthAdjust="spacingAndGlyphs">-10</text>
<line x1="868.45" y1="342.5" x2="872.95" y2="342.5" stroke="#0000ff" stroke-width="1" />
<text x="858.55" y="349.88" font-size="22.9" fill="#0000ff" text-anchor="end" textLength="34.3" lengthAdjust="spacingAndGlyphs">-20</text>
<line x1="868.45" y1="388.5" x2="872.95" y2="388.5" stroke="#0000ff" stroke-width="1" />
<text x="858.55" y="395.87" font-size="22.9" fill="#0000ff" text-anchor="end" textLength="34.3" lengthAdjust="spacingAndGlyphs">-30</text>
<line x1="1321.4" y1="112.5" x2="1316.9" y2="112.5" stroke="#262626" stroke-width="1" />
<text x="1330.8" y="119.93" font-size="22.9" fill="#262626" text-anchor="start" textLength="13.36" lengthAdjust="spacingAndGlyphs">3</text>
<line x1="1321.4" y1="158.5" x2="1316.9" y2="158.5" stroke="#262626" stroke-width="1" />
<text x="1330.8" y="165.92" font-size="22.9" fill="#262626" text-anchor="start" textLength="13.36" lengthAdjust="spacingAndGlyphs">2</text>
<line x1="1321.4" y1="204.5" x2="1316.9" y2="204.5" stroke="#262626" stroke-width="1" />
<text x="1330.8" y="211.91" font-size="22.9" fill="#262626" text-anchor="start" textLength="13.36" lengthAdjust="spacingAndGlyphs">1</text>
<line x1="1321.4" y1="250.5" x2="1316.9" y2="250.5" stroke="#262626" stroke-width="1" />
<text x="1330.8" y="257.9" font-size="22.9" fill="#262626" text-anchor="start" textLength="13.36" lengthAdjust="spacingAndGlyphs">0</text>
<line x1="1321.4" y1="296.5" x2="1316.9" y2="296.5" stroke="#262626" stroke-width="1" />
<text x="1330.8" y="303.89" font-size="22.9" fill="#262626" text-anchor="start" textLength="20.94" lengthAdjust="spacingAndGlyphs">-1</text>
<line x1="1321.4" y1="342.5" x2="1316.9" y2="342.5" stroke="#262626" stroke-width="1" />
<text x="1330.8" y="349.88" font-size="22.9" fill="#262626" text-anchor="start" textLength="20.94" lengthAdjust="spacingAndGlyphs">-2</text>
<line x1="1321.4" y1="388.5" x2="1316.9" y2="388.5" stroke="#262626" stroke-width="1" />
<text x="1330.8" y="395.87" font-size="22.9" fill="#262626" text-anchor="start" textLength="20.94" lengthAdjust="spacingAndGlyphs">-3</text>
<line x1="868.5" y1="418.4" x2="868.5" y2="413.9" stroke="#262626" stroke-width="1" />
<text x="868.45" y="448.3" font-size="22.9" fill="#262626" text-anchor="middle" textLength="13.36" lengthAdjust="spacingAndGlyphs">0</text>
<line x1="925.5" y1="418.4" x2="925.5" y2="413.9" stroke="#262626" stroke-width="1" />
<text x="925.07" y="448.3" font-size="22.9" fill="#262626" text-anchor="middle" textLength="13.36" lengthAdjust="spacingAndGlyphs">3</text>
<line x1="981.5" y1="418.4" x2="981.5" y2="413.9" stroke="#262626" stroke-width="1" />
<text x="981.69" y="448.3" font-size="22.9" fill="#262626" text-anchor="middle" textLength="13.36" lengthAdjust="spacingAndGlyphs">6</text>
<line x1="1038.5" y1="418.4" x2="1038.5" y2="413.9" stroke="#262626" stroke-width="1" />
<text x="1038.31" y="448.3" font-size="22.9" fill="#262626" text-anchor="middle" textLength="13.36" lengthAdjust="spacingAndGlyphs">9</text>
<line x1="1094.5" y1="418.4" x2="1094.5" y2="413.9" stroke="#262626" stroke-width="1" />
<text x="1094.93" y="448.3" font-size="22.9" fill="#262626" text-anchor="middle" textLength="26.72" lengthAdjust="spacingAndGlyphs">12</text>
<line x1="1151.5" y1="418.4" x2="1151.5" y2="413.9" stroke="#262626" stroke-width="1" />
<text x="1151.54" y="448.3" font-size="22.9" fill="#262626" text-anchor="middle" textLength="26.72" lengthAdjust="spacingAndGlyphs">15</text>
<line x1="1208.5" y1="418.4" x2="1208.5" y2="413.9" stroke="#262626" stroke-width="1" />
<text x="1208.16" y="448.3" font-size="22.9" fill="#262626" text-anchor="middle" textLength="26.72" lengthAdjust="spacingAndGlyphs">18</text>
<line x1="1264.5" y1="418.4" x2="1264.5" y2="413.9" stroke="#262626" stroke-width="1" />
<text x="1264.78" y="448.3" font-size="22.9" fill="#262626" text-anchor="middle" textLength="26.72" lengthAdjust="spacingAndGlyphs">21</text>
<line x1="1321.5" y1="418.4" x2="1321.5" y2="413.9" stroke="#262626" stroke-width="1" />
<text x="1321.4" y="448.3" font-size="22.9" fill="#262626" text-anchor="middle" textLength="26.72" lengthAdjust="spacingAndGlyphs">24</text>
<line x1="868.5" y1="108.2" x2="868.5" y2="418.4" stroke="#0000ff" stroke-width="1" />
<text x="1095.23" y="479" font-size="23.52" fill="#262626" text-anchor="middle" textLength="125.72" lengthAdjust="spacingAndGlyphs">UT Time /h</text>
<text x="1102.6" y="62.2" font-size="25.93" fill="#000000" text-anchor="middle" textLength="107.8" lengthAdjust="spacingAndGlyphs">Eyrewell</text>
<text transform="translate(815.45,264.5) rotate(-90)" x="0" y="0" font-size="17.43" fill="#0000ff" text-anchor="middle" textLength="226.47" lengthAdjust="spacingAndGlyphs">X Mean Magnetic Field / nT</text>
<text transform="translate(1372.4,263.6) rotate(-90)" x="0" y="0" font-size="17.32" fill="#262626" text-anchor="middle" textLength="203.07" lengthAdjust="spacingAndGlyphs">Rate of Change / nT/min</text>
<text x="867.25" y="100.1" font-size="13.18" fill="#000000" text-anchor="start" textLength="255.51" lengthAdjust="spacingAndGlyphs">File Updated:15-Nov-2025 11:48:10 UTC</text>
<text x="1314.9" y="106.8" font-size="15.07" fill="#000000" text-anchor="end" textLength="128.94" lengthAdjust="spacingAndGlyphs">minute resolution</text>
<rect x="1085.5" y="103.5" width="111" height="40" fill="#ffffff" stroke="#00ffff" stroke-width="1"/>
<text x="1140.72" y="130.8" font-size="21.63" fill="#000000" text-anchor="middle" textLength="95.6" lengthAdjust="spacingAndGlyphs">time now</text>
<rect x="1464" y="108" width="113" height="310" fill="#e5e5e5" stroke="none" stroke-width="0"/>
<rect x="1822" y="108" width="92" height="310" fill="#e5e5e5" stroke="none" stroke-width="0"/>
<path d="M1464.5 275.65 L1465.05 276.4 L1465.61 302.14 L1466.16 270.74 L1466.72 308.46 L1467.27 315.92 L1467.83 319.5 L1468.38 276.97 L1468.94 296.56 L1469.49 272.27 L1470.05 296.11 L1470.6 273.87 L1471.16 294.65 L1471.71 303.29 L1472.26 331.64 L1472.82 279.61 L1473.37 288.29 L1473.93 285.5 L1474.48 300.74 L1475.04 314.23 L1475.59 297.09 L1476.15 265.13 L1476.7 331.53 L1477.26 258.9 L1477.81 264.15 L1478.37 283.26 L1478.92 286.3 L1479.47 273.29 L1480.03 289.57 L1480.58 254.01 L1481.14 282.74 L1481.69 332.66 L1482.25 290.53 L1482.8 312.56 L1483.36 322.66 L1483.91 309.5 L1484.47 282.68 L1485.02 298.45 L1485.58 303.26 L1486.13 288.56 L1486.68 277.37 L1487.24 287.65 L1487.79 283.25 L1488.35 297 L1488.9 294.67 L1489.46 243.64 L1490.01 294.69 L1490.57 260.8 L1491.12 295.32 L1491.68 268.87 L1492.23 243.36 L1492.79 265.44 L1493.34 298.42 L1493.89 266.45 L1494.45 247.32 L1495 266.22 L1495.56 247.3 L1496.11 282.03 L1496.67 291.09 L1497.22 262.89 L1497.78 301.09 L1498.33 327.42 L1498.89 290.91 L1499.44 236.07 L1500 270.01 L1500.55 252.43 L1501.1 271 L1501.66 298.36 L1502.21 295.87 L1502.77 287.59 L1503.32 294.14 L1503.88 296.89 L1504.43 268.59 L1504.99 277.06 L1505.54 273.17 L1506.1 262.72 L1506.65 260.87 L1507.21 294.03 L1507.76 283.73 L1508.31 273.08 L1508.87 255.84 L1509.42 353.8 L1509.98 299.83 L1510.53 308.39 L1511.09 283.3 L1511.64 240.17 L1512.2 318.6 L1512.75 285.46 L1513.31 271.19 L1513.86 323.33 L1514.42 296.5 L1514.97 339.25 L1515.52 265.25 L1516.08 306.54 L1516.63 282.68 L1517.19 314.97 L1517.74 236.13 L1518.3 287.53 L1518.85 282.39 L1519.41 287.97 L1519.96 239.33 L1520.52 292.88 L1521.07 276.69 L1521.63 258.04 L1522.18 274.58 L1522.74 324.59 L1523.29 266.93 L1523.84 293.7 L1524.4 237.28 L1524.95 286.18 L1525.51 340.57 L1526.06 253.59 L1526.62 340.52 L1527.17 263.06 L1527.73 300.6 L1528.28 300.85 L1528.84 309.43 L1529.39 231.42 L1529.95 275.37 L1530.5 237.82 L1531.05 257.86 L1531.61 245.77 L1532.16 288 L1532.72 224.67 L1533.27 378.29 L1533.83 262.29 L1534.38 280.59 L1534.94 286.82 L1535.49 226.08 L1536.05 289.03 L1536.6 273.75 L1537.16 262.14 L1537.71 293.13 L1538.26 227.14 L1538.82 277.96 L1539.37 274.07 L1539.93 333.21 L1540.48 267.18 L1541.04 147.87 L1541.59 371.61 L1542.15 259.1 L1542.7 284.96 L1543.26 276.29 L1543.81 319.06 L1544.37 228.66 L1544.92 295.94 L1545.47 279.27 L1546.03 304.51 L1546.58 279.09 L1547.14 273.57 L1547.69 284.69 L1548.25 303.49 L1548.8 289.99 L1549.36 241.57 L1549.91 240.48 L1550.47 334.62 L1551.02 335.48 L1551.58 171.24 L1552.13 367.16 L1552.68 340.55 L1553.24 288.46 L1553.79 262.06 L1554.35 298.2 L1554.9 271.55 L1555.46 251.71 L1556.01 311.6 L1556.57 281.61 L1557.12 189.05 L1557.68 347.12 L1558.23 253.64 L1558.79 269.77 L1559.34 239.77 L1559.89 303.56 L1560.45 251.51 L1561 303.63 L1561.56 258.69 L1562.11 294.26 L1562.67 307.1 L1563.22 282.03 L1563.78 258.68 L1564.33 292.72 L1564.89 289.73 L1565.44 296.36 L1566 331.32 L1566.55 241.09 L1567.1 336.3 L1567.66 311.48 L1568.21 255.5 L1568.77 259.56 L1569.32 329.53 L1569.88 301.42 L1570.43 337.55 L1570.99 275.99 L1571.54 314.11 L1572.1 243.83 L1572.65 291.12 L1573.21 272.65 L1573.76 229.24 L1574.31 244.35 L1574.87 291.81 L1575.42 269.83 L1575.98 295.84 L1576.53 278.06 L1577.09 312.79 L1577.64 314.28 L1578.2 281.58 L1578.75 284.76 L1579.31 245.25 L1579.86 293.87 L1580.42 264.51 L1580.97 300.94 L1581.52 240.44 L1582.08 302.12 L1582.63 279.3 L1583.19 252.15 L1583.74 288.92 L1584.3 229.01 L1584.85 255.84 L1585.41 349.35 L1585.96 236.8 L1586.52 279.73 L1587.07 289.59 L1587.63 235.96 L1588.18 251.07 L1588.73 301.26 L1589.29 306.14 L1589.84 279.46 L1590.4 206.86 L1590.95 349.35 L1591.51 319.3 L1592.06 279.72 L1592.62 261 L1593.17 266.98 L1593.73 247.89 L1594.28 244.33 L1594.84 292.8 L1595.39 273.74 L1595.94 297.81 L1596.5 305.98 L1597.05 263.21 L1597.61 283.45 L1598.16 330.42 L1598.72 247.41 L1599.27 302.08 L1599.83 270.48 L1600.38 308 L1600.94 234.73 L1601.49 297.79 L1602.05 253.14 L1602.6 272.15 L1603.15 288.65 L1603.71 280.66 L1604.26 235.9 L1604.82 226.53 L1605.37 272.58 L1605.93 220.22 L1606.48 376.06 L1607.04 328.62 L1607.59 221.51 L1608.15 278.73 L1608.7 233.67 L1609.26 304.05 L1609.81 264.67 L1610.36 303.27 L1610.92 300.73 L1611.47 307.97 L1612.03 242.53 L1612.58 233.58 L1613.14 335.99 L1613.69 305.4 L1614.25 311.26 L1614.8 274.64 L1615.36 254.29 L1615.91 290.44 L1616.47 318.71 L1617.02 309.46 L1617.57 286.98 L1618.13 293.16 L1618.68 226.86 L1619.24 300.42 L1619.79 271.6 L1620.35 295.52 L1620.9 231.01 L1621.46 287.25 L1622.01 265 L1622.57 272.45 L1623.12 235.18 L1623.68 301.88 L1624.23 307.23 L1624.79 256.49 L1625.34 293.55 L1625.89 262.92 L1626.45 254.95 L1627 279.19 L1627.56 227.79 L1628.11 302.81 L1628.67 276.07 L1629.22 248.59 L1629.78 236.53 L1630.33 285.44 L1630.89 285.72 L1631.44 278.73 L1632 253.82 L1632.55 245.56 L1633.1 267.32 L1633.66 283.81 L1634.21 292.44 L1634.77 281.72 L1635.32 337.32 L1635.88 295.83 L1636.43 279.88 L1636.99 289.31 L1637.54 235.36 L1638.1 236.44 L1638.65 314.52 L1639.21 306.13 L1639.76 235.62 L1640.31 255.84 L1640.87 338.22 L1641.42 290.77 L1641.98 245.16 L1642.53 277.98 L1643.09 300.19 L1643.64 232.46 L1644.2 322.52 L1644.75 251.01 L1645.31 253.39 L1645.86 267.67 L1646.42 266.68 L1646.97 272.7 L1647.52 233.19 L1648.08 275.28 L1648.63 270.14 L1649.19 294.62 L1649.74 249.42 L1650.3 266.25 L1650.85 260.29 L1651.41 333.19 L1651.96 253.19 L1652.52 235.81 L1653.07 333.76 L1653.63 244.37 L1654.18 236.34 L1654.73 322.08 L1655.29 257.31 L1655.84 271.78 L1656.4 298.29 L1656.95 303.48 L1657.51 322.7 L1658.06 282.33 L1658.62 286.7 L1659.17 265.67 L1659.73 255.39 L1660.28 295.95 L1660.84 326.82 L1661.39 272.94 L1661.94 272.13 L1662.5 269.06 L1663.05 244.94 L1663.61 255.84 L1664.16 335.99 L1664.72 282.71 L1665.27 301.86 L1665.83 321.66 L1666.38 262.38 L1666.94 281.9 L1667.49 306.51 L1668.05 296.46 L1668.6 256.1 L1669.15 273.25 L1669.71 275.77 L1670.26 257.9 L1670.82 281.59 L1671.37 246.89 L1671.93 289.02 L1672.48 268.03 L1673.04 276 L1673.59 268.65 L1674.15 267.46 L1674.7 292.53 L1675.26 248.1 L1675.81 271.4 L1676.36 289.7 L1676.92 283.24 L1677.47 258.96 L1678.03 275.33 L1678.58 263.74 L1679.14 260.73 L1679.69 252.7 L1680.25 268.93 L1680.8 260.8 L1681.36 244.71 L1681.91 334.88 L1682.47 293.4 L1683.02 253.13 L1683.57 289.04 L1684.13 299.18 L1684.68 252.54 L1685.24 287.56" fill="none" stroke="#3c3c3c" stroke-width="0.42" stroke-linejoin="round" stroke-linecap="round" stroke-linecap="butt" stroke-linejoin="miter"/>
<path d="M1464.57 267.88 L1465.57 271.9 L1466.57 274.05 L1467.57 272.32 L1468.57 273.32 L1469.57 271.86 L1470.57 272.72 L1471.57 268.22 L1472.57 266.89 L1473.57 267.33 L1474.57 266.69 L1475.57 268.96 L1476.57 274.18 L1477.57 274.67 L1478.57 273.7 L1479.57 273.68 L1480.57 273.39 L1481.57 280.29 L1482.57 281.82 L1483.57 278.13 L1484.57 272.73 L1485.57 269.69 L1486.57 267.63 L1487.57 267.24 L1488.57 268.02 L1489.57 267.39 L1490.57 267.56 L1491.57 271.06 L1492.57 267.56 L1493.57 266.73 L1494.57 266.96 L1495.57 264.33 L1496.57 260.1 L1497.57 259.41 L1498.57 248.07 L1499.57 232.81 L1500.57 222.63 L1501.57 219.67 L1502.57 219.99 L1503.57 210.87 L1504.57 214.77 L1505.57 213.93 L1506.57 213.59 L1507.57 217.17 L1508.57 220.38 L1509.57 231.49 L1510.57 238.83 L1511.57 236.59 L1512.57 237.47 L1513.57 236.9 L1514.57 237.63 L1515.57 239.93 L1516.57 241.53 L1517.57 243.95 L1518.57 242.52 L1519.57 246.73 L1520.57 248.94 L1521.57 251.91 L1522.57 261.07 L1523.57 246.65 L1524.57 238.34 L1525.57 242.69 L1526.57 241.99 L1527.57 246.66 L1528.57 247.27 L1529.57 247.06 L1530.57 243.14 L1531.57 241.86 L1532.57 253.84 L1533.57 263.78 L1534.57 277.46 L1535.57 289.33 L1536.57 291.23 L1537.57 295.24 L1538.57 295.85 L1539.57 301.61 L1540.57 305.88 L1541.57 291.48 L1542.57 278.97 L1543.57 286.98 L1544.57 294.22 L1545.57 294.41 L1546.57 300.82 L1547.57 302.76 L1548.57 304.1 L1549.57 296.59 L1550.57 295.59 L1551.57 292 L1552.57 287.47 L1553.57 286.98 L1554.57 278.3 L1555.57 274 L1556.57 268.3 L1557.57 265.95 L1558.57 263.12 L1559.57 267.48 L1560.57 270.6 L1561.57 272.21 L1562.57 275.83 L1563.57 273.19 L1564.57 279.24 L1565.57 279.68 L1566.57 283.95 L1567.57 277.2 L1568.57 263.74 L1569.57 253.14 L1570.57 256.58 L1571.57 256.02 L1572.57 257.48 L1573.57 259.88 L1574.57 257.39 L1575.57 253.08 L1576.57 255.94 L1577.57 260.26 L1578.57 265.84 L1579.57 262.75 L1580.57 251.03 L1581.57 245.9 L1582.57 257.44 L1583.57 266.87 L1584.57 274.15 L1585.57 281.52 L1586.57 287.62 L1587.57 295.06 L1588.57 295.19 L1589.57 292.88 L1590.57 289.31 L1591.57 283.74 L1592.57 267.46 L1593.57 259.45 L1594.57 257.61 L1595.57 250.19 L1596.57 250.54 L1597.57 247.33 L1598.57 249.49 L1599.57 253.12 L1600.57 260.2 L1601.57 261.55 L1602.57 263.41 L1603.57 268.57 L1604.57 268.91 L1605.57 271.73 L1606.57 283.45 L1607.57 286.64 L1608.57 299.48 L1609.57 317.49 L1610.57 328.54 L1611.57 321.54 L1612.57 322.55 L1613.57 312.48 L1614.57 306.27 L1615.57 299.93 L1616.57 293.73 L1617.57 289.55 L1618.57 287.9 L1619.57 288.01 L1620.57 280.36 L1621.57 275.88 L1622.57 267.1 L1623.57 265.41 L1624.57 260.75 L1625.57 262.47 L1626.57 258.57 L1627.57 257.07 L1628.57 256.54 L1629.57 258.26 L1630.57 259.15 L1631.57 265.89 L1632.57 268.16 L1633.57 274.55 L1634.57 274.77 L1635.57 270.66 L1636.57 269.16 L1637.57 271.54 L1638.57 276.09 L1639.57 281.99 L1640.57 287.54 L1641.57 294.13 L1642.57 293.99 L1643.57 303.2 L1644.57 305.73 L1645.57 304.15 L1646.57 302.5 L1647.57 297.76 L1648.57 296.48 L1649.57 296.13 L1650.57 288.28 L1651.57 291.23 L1652.57 289.8 L1653.57 282.4 L1654.57 278.16 L1655.57 266.81 L1656.57 253.23 L1657.57 243.15 L1658.57 237.21 L1659.57 231.01 L1660.57 221.13 L1661.57 215.35 L1662.57 214.21 L1663.57 208.39 L1664.57 214.01 L1665.57 222.42 L1666.57 228.16 L1667.57 226.45 L1668.57 229.8 L1669.57 224.99 L1670.57 223.71 L1671.57 214.33 L1672.57 213.73 L1673.57 204.53 L1674.57 211 L1675.57 211.52 L1676.57 215.58 L1677.57 214.2 L1678.57 219.81 L1679.57 215.6 L1680.57 215.58 L1681.57 216.7 L1682.57 227.65 L1683.57 222.11 L1684.57 211.08 L1685.74 211.08 L1685.74 282.3" fill="none" stroke="#0000ff" stroke-width="5" stroke-linejoin="round" stroke-linecap="round" />
<line x1="1685.74" y1="282.3" x2="1914.35" y2="282.3" stroke="#0000ff" stroke-width="4.3" />
<line x1="1464.5" y1="282.3" x2="1914.35" y2="282.3" stroke="#000000" stroke-width="1.3" stroke-dasharray="19.5 13.9"/>
<line x1="1686.24" y1="143.2" x2="1686.24" y2="418.4" stroke="#00ffff" stroke-width="3" />
<line x1="1464" y1="418.5" x2="1914.85" y2="418.5" stroke="#262626" stroke-width="1" />
<line x1="1914.5" y1="108.2" x2="1914.5" y2="418.4" stroke="#262626" stroke-width="1" />
<line x1="1464.5" y1="113.5" x2="1469" y2="113.5" stroke="#0000ff" stroke-width="1" />
<text x="1454.6" y="120.84" font-size="22.9" fill="#0000ff" text-anchor="end" textLength="26.72" lengthAdjust="spacingAndGlyphs">30</text>
<line x1="1464.5" y1="169.5" x2="1469" y2="169.5" stroke="#0000ff" stroke-width="1" />
<text x="1454.6" y="177.16" font-size="22.9" fill="#0000ff" text-anchor="end" textLength="26.72" lengthAdjust="spacingAndGlyphs">20</text>
<line x1="1464.5" y1="225.5" x2="1469" y2="225.5" stroke="#0000ff" stroke-width="1" />
<text x="1454.6" y="233.48" font-size="22.9" fill="#0000ff" text-anchor="end" textLength="26.72" lengthAdjust="spacingAndGlyphs">10</text>
<line x1="1464.5" y1="282.5" x2="1469" y2="282.5" stroke="#0000ff" stroke-width="1" />
<text x="1454.6" y="289.8" font-size="22.9" fill="#0000ff" text-anchor="end" textLength="13.36" lengthAdjust="spacingAndGlyphs">0</text>
<line x1="1464.5" y1="338.5" x2="1469" y2="338.5" stroke="#0000ff" stroke-width="1" />
<text x="1454.6" y="346.12" font-size="22.9" fill="#0000ff" text-anchor="end" textLength="34.3" lengthAdjust="spacingAndGlyphs">-10</text>
<line x1="1464.5" y1="394.5" x2="1469" y2="394.5" stroke="#0000ff" stroke-width="1" />
<text x="1454.6" y="402.44" font-size="22.9" fill="#0000ff" text-anchor="end" textLength="34.3" lengthAdjust="spacingAndGlyphs">-20</text>
<line x1="1914.35" y1="113.5" x2="1909.85" y2="113.5" stroke="#262626" stroke-width="1" />
<text x="1923.75" y="120.84" font-size="22.9" fill="#262626" text-anchor="start" textLength="13.36" lengthAdjust="spacingAndGlyphs">3</text>
<line x1="1914.35" y1="169.5" x2="1909.85" y2="169.5" stroke="#262626" stroke-width="1" />
<text x="1923.75" y="177.16" font-size="22.9" fill="#262626" text-anchor="start" textLength="13.36" lengthAdjust="spacingAndGlyphs">2</text>
<line x1="1914.35" y1="225.5" x2="1909.85" y2="225.5" stroke="#262626" stroke-width="1" />
<text x="1923.75" y="233.48" font-size="22.9" fill="#262626" text-anchor="start" textLength="13.36" lengthAdjust="spacingAndGlyphs">1</text>
<line x1="1914.35" y1="282.5" x2="1909.85" y2="282.5" stroke="#262626" stroke-width="1" />
<text x="1923.75" y="289.8" font-size="22.9" fill="#262626" text-anchor="start" textLength="13.36" lengthAdjust="spacingAndGlyphs">0</text>
<line x1="1914.35" y1="338.5" x2="1909.85" y2="338.5" stroke="#262626" stroke-width="1" />
<text x="1923.75" y="346.12" font-size="22.9" fill="#262626" text-anchor="start" textLength="20.94" lengthAdjust="spacingAndGlyphs">-1</text>
<line x1="1914.35" y1="394.5" x2="1909.85" y2="394.5" stroke="#262626" stroke-width="1" />
<text x="1923.75" y="402.44" font-size="22.9" fill="#262626" text-anchor="start" textLength="20.94" lengthAdjust="spacingAndGlyphs">-2</text>
<line x1="1464.5" y1="418.4" x2="1464.5" y2="413.9" stroke="#262626" stroke-width="1" />
<text x="1464.5" y="448.3" font-size="22.9" fill="#262626" text-anchor="middle" textLength="13.36" lengthAdjust="spacingAndGlyphs">0</text>
<line x1="1520.5" y1="418.4" x2="1520.5" y2="413.9" stroke="#262626" stroke-width="1" />
<text x="1520.73" y="448.3" font-size="22.9" fill="#262626" text-anchor="middle" textLength="13.36" lengthAdjust="spacingAndGlyphs">3</text>
<line x1="1576.5" y1="418.4" x2="1576.5" y2="413.9" stroke="#262626" stroke-width="1" />
<text x="1576.96" y="448.3" font-size="22.9" fill="#262626" text-anchor="middle" textLength="13.36" lengthAdjust="spacingAndGlyphs">6</text>
<line x1="1633.5" y1="418.4" x2="1633.5" y2="413.9" stroke="#262626" stroke-width="1" />
<text x="1633.19" y="448.3" font-size="22.9" fill="#262626" text-anchor="middle" textLength="13.36" lengthAdjust="spacingAndGlyphs">9</text>
<line x1="1689.5" y1="418.4" x2="1689.5" y2="413.9" stroke="#262626" stroke-width="1" />
<text x="1689.42" y="448.3" font-size="22.9" fill="#262626" text-anchor="middle" textLength="26.72" lengthAdjust="spacingAndGlyphs">12</text>
<line x1="1745.5" y1="418.4" x2="1745.5" y2="413.9" stroke="#262626" stroke-width="1" />
<text x="1745.66" y="448.3" font-size="22.9" fill="#262626" text-anchor="middle" textLength="26.72" lengthAdjust="spacingAndGlyphs">15</text>
<line x1="1801.5" y1="418.4" x2="1801.5" y2="413.9" stroke="#262626" stroke-width="1" />
<text x="1801.89" y="448.3" font-size="22.9" fill="#262626" text-anchor="middle" textLength="26.72" lengthAdjust="spacingAndGlyphs">18</text>
<line x1="1858.5" y1="418.4" x2="1858.5" y2="413.9" stroke="#262626" stroke-width="1" />
<text x="1858.12" y="448.3" font-size="22.9" fill="#262626" text-anchor="middle" textLength="26.72" lengthAdjust="spacingAndGlyphs">21</text>
<line x1="1914.5" y1="418.4" x2="1914.5" y2="413.9" stroke="#262626" stroke-width="1" />
<text x="1914.35" y="448.3" font-size="22.9" fill="#262626" text-anchor="middle" textLength="26.72" lengthAdjust="spacingAndGlyphs">24</text>
<line x1="1464.5" y1="108.2" x2="1464.5" y2="418.4" stroke="#0000ff" stroke-width="1" />
<text x="1689.72" y="479" font-size="23.52" fill="#262626" text-anchor="middle" textLength="125.72" lengthAdjust="spacingAndGlyphs">UT Time /h</text>
<text x="1697.7" y="62.2" font-size="25.93" fill="#000000" text-anchor="middle" textLength="107.35" lengthAdjust="spacingAndGlyphs">Dunedin</text>
<text transform="translate(1410.7,264.5) rotate(-90)" x="0" y="0" font-size="17.43" fill="#0000ff" text-anchor="middle" textLength="226.47" lengthAdjust="spacingAndGlyphs">X Mean Magnetic Field / nT</text>
<text transform="translate(1966.75,263.6) rotate(-90)" x="0" y="0" font-size="17.32" fill="#262626" text-anchor="middle" textLength="203.07" lengthAdjust="spacingAndGlyphs">Rate of Change / nT/min</text>
<text x="1463.3" y="100.1" font-size="13.18" fill="#000000" text-anchor="start" textLength="255.51" lengthAdjust="spacingAndGlyphs">File Updated:15-Nov-2025 11:49:01 UTC</text>
<text x="1907.85" y="106.8" font-size="15.07" fill="#000000" text-anchor="end" textLength="128.94" lengthAdjust="spacingAndGlyphs">minute resolution</text>
<rect x="1679.5" y="103.5" width="111" height="40" fill="#ffffff" stroke="#00ffff" stroke-width="1"/>
<text x="1735.24" y="130.8" font-size="21.63" fill="#000000" text-anchor="middle" textLength="95.6" lengthAdjust="spacingAndGlyphs">time now</text>
<rect x="276" y="537" width="112" height="310" fill="#e5e5e5" stroke="none" stroke-width="0"/>
<rect x="633" y="537" width="94" height="310" fill="#e5e5e5" stroke="none" stroke-width="0"/>
<line x1="275.5" y1="692.5" x2="727.4" y2="692.5" stroke="#000000" stroke-width="1" />
<line x1="497.87" y1="572" x2="497.87" y2="847.4" stroke="#00ffff" stroke-width="3" />
<line x1="275.5" y1="537.4" x2="275.5" y2="847.4" stroke="#262626" stroke-width="1" />
<line x1="275" y1="847.5" x2="727.9" y2="847.5" stroke="#262626" stroke-width="1" />
<line x1="275.5" y1="537.5" x2="280" y2="537.5" stroke="#262626" stroke-width="1" />
<line x1="275.5" y1="614.5" x2="280" y2="614.5" stroke="#262626" stroke-width="1" />
<line x1="275.5" y1="692.5" x2="280" y2="692.5" stroke="#262626" stroke-width="1" />
<line x1="275.5" y1="769.5" x2="280" y2="769.5" stroke="#262626" stroke-width="1" />
<line x1="275.5" y1="847.5" x2="280" y2="847.5" stroke="#262626" stroke-width="1" />
<line x1="275.5" y1="847.4" x2="275.5" y2="842.9" stroke="#262626" stroke-width="1" />
<line x1="294.5" y1="847.4" x2="294.5" y2="842.9" stroke="#262626" stroke-width="1" />
<line x1="313.5" y1="847.4" x2="313.5" y2="842.9" stroke="#262626" stroke-width="1" />
<line x1="331.5" y1="847.4" x2="331.5" y2="842.9" stroke="#262626" stroke-width="1" />
<line x1="350.5" y1="847.4" x2="350.5" y2="842.9" stroke="#262626" stroke-width="1" />
<line x1="369.5" y1="847.4" x2="369.5" y2="842.9" stroke="#262626" stroke-width="1" />
<line x1="388.5" y1="847.4" x2="388.5" y2="842.9" stroke="#262626" stroke-width="1" />
<line x1="407.5" y1="847.4" x2="407.5" y2="842.9" stroke="#262626" stroke-width="1" />
<line x1="426.5" y1="847.4" x2="426.5" y2="842.9" stroke="#262626" stroke-width="1" />
<line x1="444.5" y1="847.4" x2="444.5" y2="842.9" stroke="#262626" stroke-width="1" />
<line x1="463.5" y1="847.4" x2="463.5" y2="842.9" stroke="#262626" stroke-width="1" />
<line x1="482.5" y1="847.4" x2="482.5" y2="842.9" stroke="#262626" stroke-width="1" />
<line x1="501.5" y1="847.4" x2="501.5" y2="842.9" stroke="#262626" stroke-width="1" />
<line x1="520.5" y1="847.4" x2="520.5" y2="842.9" stroke="#262626" stroke-width="1" />
<line x1="539.5" y1="847.4" x2="539.5" y2="842.9" stroke="#262626" stroke-width="1" />
<line x1="557.5" y1="847.4" x2="557.5" y2="842.9" stroke="#262626" stroke-width="1" />
<line x1="576.5" y1="847.4" x2="576.5" y2="842.9" stroke="#262626" stroke-width="1" />
<line x1="595.5" y1="847.4" x2="595.5" y2="842.9" stroke="#262626" stroke-width="1" />
<line x1="614.5" y1="847.4" x2="614.5" y2="842.9" stroke="#262626" stroke-width="1" />
<line x1="633.5" y1="847.4" x2="633.5" y2="842.9" stroke="#262626" stroke-width="1" />
<line x1="652.5" y1="847.4" x2="652.5" y2="842.9" stroke="#262626" stroke-width="1" />
<line x1="670.5" y1="847.4" x2="670.5" y2="842.9" stroke="#262626" stroke-width="1" />
<line x1="689.5" y1="847.4" x2="689.5" y2="842.9" stroke="#262626" stroke-width="1" />
<line x1="708.5" y1="847.4" x2="708.5" y2="842.9" stroke="#262626" stroke-width="1" />
<line x1="727.5" y1="847.4" x2="727.5" y2="842.9" stroke="#262626" stroke-width="1" />
<text x="275.5" y="876.7" font-size="22.9" fill="#262626" text-anchor="middle" textLength="13.36" lengthAdjust="spacingAndGlyphs">0</text>
<text x="331.99" y="876.7" font-size="22.9" fill="#262626" text-anchor="middle" textLength="13.36" lengthAdjust="spacingAndGlyphs">3</text>
<text x="388.48" y="876.7" font-size="22.9" fill="#262626" text-anchor="middle" textLength="13.36" lengthAdjust="spacingAndGlyphs">6</text>
<text x="444.96" y="876.7" font-size="22.9" fill="#262626" text-anchor="middle" textLength="13.36" lengthAdjust="spacingAndGlyphs">9</text>
<text x="501.45" y="876.7" font-size="22.9" fill="#262626" text-anchor="middle" textLength="26.72" lengthAdjust="spacingAndGlyphs">12</text>
<text x="557.94" y="876.7" font-size="22.9" fill="#262626" text-anchor="middle" textLength="26.72" lengthAdjust="spacingAndGlyphs">15</text>
<text x="614.42" y="876.7" font-size="22.9" fill="#262626" text-anchor="middle" textLength="26.72" lengthAdjust="spacingAndGlyphs">18</text>
<text x="670.91" y="876.7" font-size="22.9" fill="#262626" text-anchor="middle" textLength="26.72" lengthAdjust="spacingAndGlyphs">21</text>
<text x="727.4" y="876.7" font-size="22.9" fill="#262626" text-anchor="middle" textLength="26.72" lengthAdjust="spacingAndGlyphs">24</text>
<rect x="491.5" y="532.5" width="111" height="40" fill="#ffffff" stroke="#00ffff" stroke-width="1"/>
<text x="546.87" y="560.5" font-size="21.63" fill="#000000" text-anchor="middle" textLength="95.6" lengthAdjust="spacingAndGlyphs">time now</text>
<text x="736.2" y="605.8" font-size="18.17" fill="#1a1a1a" text-anchor="start" textLength="106.65" lengthAdjust="spacingAndGlyphs" font-weight="bold">dB/dT Alert</text>
<text x="735.2" y="760.7" font-size="18.17" fill="#0000ff" text-anchor="start" textLength="65.05" lengthAdjust="spacingAndGlyphs" font-weight="bold">B Alert</text>
<rect x="868" y="537" width="114" height="310" fill="#e5e5e5" stroke="none" stroke-width="0"/>
<rect x="1227" y="537" width="94" height="310" fill="#e5e5e5" stroke="none" stroke-width="0"/>
<line x1="868.45" y1="692.5" x2="1321.4" y2="692.5" stroke="#000000" stroke-width="1" />
<line x1="1091.72" y1="572" x2="1091.72" y2="847.4" stroke="#00ffff" stroke-width="3" />
<line x1="868.5" y1="537.4" x2="868.5" y2="847.4" stroke="#262626" stroke-width="1" />
<line x1="867.95" y1="847.5" x2="1321.9" y2="847.5" stroke="#262626" stroke-width="1" />
<line x1="868.45" y1="537.5" x2="872.95" y2="537.5" stroke="#262626" stroke-width="1" />
<line x1="868.45" y1="614.5" x2="872.95" y2="614.5" stroke="#262626" stroke-width="1" />
<line x1="868.45" y1="692.5" x2="872.95" y2="692.5" stroke="#262626" stroke-width="1" />
<line x1="868.45" y1="769.5" x2="872.95" y2="769.5" stroke="#262626" stroke-width="1" />
<line x1="868.45" y1="847.5" x2="872.95" y2="847.5" stroke="#262626" stroke-width="1" />
<line x1="868.5" y1="847.4" x2="868.5" y2="842.9" stroke="#262626" stroke-width="1" />
<line x1="887.5" y1="847.4" x2="887.5" y2="842.9" stroke="#262626" stroke-width="1" />
<line x1="906.5" y1="847.4" x2="906.5" y2="842.9" stroke="#262626" stroke-width="1" />
<line x1="925.5" y1="847.4" x2="925.5" y2="842.9" stroke="#262626" stroke-width="1" />
<line x1="943.5" y1="847.4" x2="943.5" y2="842.9" stroke="#262626" stroke-width="1" />
<line x1="962.5" y1="847.4" x2="962.5" y2="842.9" stroke="#262626" stroke-width="1" />
<line x1="981.5" y1="847.4" x2="981.5" y2="842.9" stroke="#262626" stroke-width="1" />
<line x1="1000.5" y1="847.4" x2="1000.5" y2="842.9" stroke="#262626" stroke-width="1" />
<line x1="1019.5" y1="847.4" x2="1019.5" y2="842.9" stroke="#262626" stroke-width="1" />
<line x1="1038.5" y1="847.4" x2="1038.5" y2="842.9" stroke="#262626" stroke-width="1" />
<line x1="1057.5" y1="847.4" x2="1057.5" y2="842.9" stroke="#262626" stroke-width="1" />
<line x1="1076.5" y1="847.4" x2="1076.5" y2="842.9" stroke="#262626" stroke-width="1" />
<line x1="1094.5" y1="847.4" x2="1094.5" y2="842.9" stroke="#262626" stroke-width="1" />
<line x1="1113.5" y1="847.4" x2="1113.5" y2="842.9" stroke="#262626" stroke-width="1" />
<line x1="1132.5" y1="847.4" x2="1132.5" y2="842.9" stroke="#262626" stroke-width="1" />
<line x1="1151.5" y1="847.4" x2="1151.5" y2="842.9" stroke="#262626" stroke-width="1" />
<line x1="1170.5" y1="847.4" x2="1170.5" y2="842.9" stroke="#262626" stroke-width="1" />
<line x1="1189.5" y1="847.4" x2="1189.5" y2="842.9" stroke="#262626" stroke-width="1" />
<line x1="1208.5" y1="847.4" x2="1208.5" y2="842.9" stroke="#262626" stroke-width="1" />
<line x1="1227.5" y1="847.4" x2="1227.5" y2="842.9" stroke="#262626" stroke-width="1" />
<line x1="1245.5" y1="847.4" x2="1245.5" y2="842.9" stroke="#262626" stroke-width="1" />
<line x1="1264.5" y1="847.4" x2="1264.5" y2="842.9" stroke="#262626" stroke-width="1" />
<line x1="1283.5" y1="847.4" x2="1283.5" y2="842.9" stroke="#262626" stroke-width="1" />
<line x1="1302.5" y1="847.4" x2="1302.5" y2="842.9" stroke="#262626" stroke-width="1" />
<line x1="1321.5" y1="847.4" x2="1321.5" y2="842.9" stroke="#262626" stroke-width="1" />
<text x="868.45" y="876.7" font-size="22.9" fill="#262626" text-anchor="middle" textLength="13.36" lengthAdjust="spacingAndGlyphs">0</text>
<text x="925.07" y="876.7" font-size="22.9" fill="#262626" text-anchor="middle" textLength="13.36" lengthAdjust="spacingAndGlyphs">3</text>
<text x="981.69" y="876.7" font-size="22.9" fill="#262626" text-anchor="middle" textLength="13.36" lengthAdjust="spacingAndGlyphs">6</text>
<text x="1038.31" y="876.7" font-size="22.9" fill="#262626" text-anchor="middle" textLength="13.36" lengthAdjust="spacingAndGlyphs">9</text>
<text x="1094.93" y="876.7" font-size="22.9" fill="#262626" text-anchor="middle" textLength="26.72" lengthAdjust="spacingAndGlyphs">12</text>
<text x="1151.54" y="876.7" font-size="22.9" fill="#262626" text-anchor="middle" textLength="26.72" lengthAdjust="spacingAndGlyphs">15</text>
<text x="1208.16" y="876.7" font-size="22.9" fill="#262626" text-anchor="middle" textLength="26.72" lengthAdjust="spacingAndGlyphs">18</text>
<text x="1264.78" y="876.7" font-size="22.9" fill="#262626" text-anchor="middle" textLength="26.72" lengthAdjust="spacingAndGlyphs">21</text>
<text x="1321.4" y="876.7" font-size="22.9" fill="#262626" text-anchor="middle" textLength="26.72" lengthAdjust="spacingAndGlyphs">24</text>
<rect x="1085.5" y="532.5" width="111" height="40" fill="#ffffff" stroke="#00ffff" stroke-width="1"/>
<text x="1140.72" y="560.5" font-size="21.63" fill="#000000" text-anchor="middle" textLength="95.6" lengthAdjust="spacingAndGlyphs">time now</text>
<text x="1330.2" y="605.8" font-size="18.17" fill="#1a1a1a" text-anchor="start" textLength="106.65" lengthAdjust="spacingAndGlyphs" font-weight="bold">dB/dT Alert</text>
<text x="1329.2" y="760.7" font-size="18.17" fill="#0000ff" text-anchor="start" textLength="65.05" lengthAdjust="spacingAndGlyphs" font-weight="bold">B Alert</text>
<rect x="1464" y="537" width="113" height="310" fill="#e5e5e5" stroke="none" stroke-width="0"/>
<rect x="1822" y="537" width="92" height="310" fill="#e5e5e5" stroke="none" stroke-width="0"/>
<line x1="1464.5" y1="692.5" x2="1914.35" y2="692.5" stroke="#000000" stroke-width="1" />
<line x1="1686.24" y1="572" x2="1686.24" y2="847.4" stroke="#00ffff" stroke-width="3" />
<line x1="1464.5" y1="537.4" x2="1464.5" y2="847.4" stroke="#262626" stroke-width="1" />
<line x1="1464" y1="847.5" x2="1914.85" y2="847.5" stroke="#262626" stroke-width="1" />
<line x1="1464.5" y1="537.5" x2="1469" y2="537.5" stroke="#262626" stroke-width="1" />
<line x1="1464.5" y1="614.5" x2="1469" y2="614.5" stroke="#262626" stroke-width="1" />
<line x1="1464.5" y1="692.5" x2="1469" y2="692.5" stroke="#262626" stroke-width="1" />
<line x1="1464.5" y1="769.5" x2="1469" y2="769.5" stroke="#262626" stroke-width="1" />
<line x1="1464.5" y1="847.5" x2="1469" y2="847.5" stroke="#262626" stroke-width="1" />
<line x1="1464.5" y1="847.4" x2="1464.5" y2="842.9" stroke="#262626" stroke-width="1" />
<line x1="1483.5" y1="847.4" x2="1483.5" y2="842.9" stroke="#262626" stroke-width="1" />
<line x1="1501.5" y1="847.4" x2="1501.5" y2="842.9" stroke="#262626" stroke-width="1" />
<line x1="1520.5" y1="847.4" x2="1520.5" y2="842.9" stroke="#262626" stroke-width="1" />
<line x1="1539.5" y1="847.4" x2="1539.5" y2="842.9" stroke="#262626" stroke-width="1" />
<line x1="1558.5" y1="847.4" x2="1558.5" y2="842.9" stroke="#262626" stroke-width="1" />
<line x1="1576.5" y1="847.4" x2="1576.5" y2="842.9" stroke="#262626" stroke-width="1" />
<line x1="1595.5" y1="847.4" x2="1595.5" y2="842.9" stroke="#262626" stroke-width="1" />
<line x1="1614.5" y1="847.4" x2="1614.5" y2="842.9" stroke="#262626" stroke-width="1" />
<line x1="1633.5" y1="847.4" x2="1633.5" y2="842.9" stroke="#262626" stroke-width="1" />
<line x1="1651.5" y1="847.4" x2="1651.5" y2="842.9" stroke="#262626" stroke-width="1" />
<line x1="1670.5" y1="847.4" x2="1670.5" y2="842.9" stroke="#262626" stroke-width="1" />
<line x1="1689.5" y1="847.4" x2="1689.5" y2="842.9" stroke="#262626" stroke-width="1" />
<line x1="1708.5" y1="847.4" x2="1708.5" y2="842.9" stroke="#262626" stroke-width="1" />
<line x1="1726.5" y1="847.4" x2="1726.5" y2="842.9" stroke="#262626" stroke-width="1" />
<line x1="1745.5" y1="847.4" x2="1745.5" y2="842.9" stroke="#262626" stroke-width="1" />
<line x1="1764.5" y1="847.4" x2="1764.5" y2="842.9" stroke="#262626" stroke-width="1" />
<line x1="1783.5" y1="847.4" x2="1783.5" y2="842.9" stroke="#262626" stroke-width="1" />
<line x1="1801.5" y1="847.4" x2="1801.5" y2="842.9" stroke="#262626" stroke-width="1" />
<line x1="1820.5" y1="847.4" x2="1820.5" y2="842.9" stroke="#262626" stroke-width="1" />
<line x1="1839.5" y1="847.4" x2="1839.5" y2="842.9" stroke="#262626" stroke-width="1" />
<line x1="1858.5" y1="847.4" x2="1858.5" y2="842.9" stroke="#262626" stroke-width="1" />
<line x1="1876.5" y1="847.4" x2="1876.5" y2="842.9" stroke="#262626" stroke-width="1" />
<line x1="1895.5" y1="847.4" x2="1895.5" y2="842.9" stroke="#262626" stroke-width="1" />
<line x1="1914.5" y1="847.4" x2="1914.5" y2="842.9" stroke="#262626" stroke-width="1" />
<text x="1464.5" y="876.7" font-size="22.9" fill="#262626" text-anchor="middle" textLength="13.36" lengthAdjust="spacingAndGlyphs">0</text>
<text x="1520.73" y="876.7" font-size="22.9" fill="#262626" text-anchor="middle" textLength="13.36" lengthAdjust="spacingAndGlyphs">3</text>
<text x="1576.96" y="876.7" font-size="22.9" fill="#262626" text-anchor="middle" textLength="13.36" lengthAdjust="spacingAndGlyphs">6</text>
<text x="1633.19" y="876.7" font-size="22.9" fill="#262626" text-anchor="middle" textLength="13.36" lengthAdjust="spacingAndGlyphs">9</text>
<text x="1689.42" y="876.7" font-size="22.9" fill="#262626" text-anchor="middle" textLength="26.72" lengthAdjust="spacingAndGlyphs">12</text>
<text x="1745.66" y="876.7" font-size="22.9" fill="#262626" text-anchor="middle" textLength="26.72" lengthAdjust="spacingAndGlyphs">15</text>
<text x="1801.89" y="876.7" font-size="22.9" fill="#262626" text-anchor="middle" textLength="26.72" lengthAdjust="spacingAndGlyphs">18</text>
<text x="1858.12" y="876.7" font-size="22.9" fill="#262626" text-anchor="middle" textLength="26.72" lengthAdjust="spacingAndGlyphs">21</text>
<text x="1914.35" y="876.7" font-size="22.9" fill="#262626" text-anchor="middle" textLength="26.72" lengthAdjust="spacingAndGlyphs">24</text>
<rect x="1679.5" y="532.5" width="111" height="40" fill="#ffffff" stroke="#00ffff" stroke-width="1"/>
<text x="1735.24" y="560.5" font-size="21.63" fill="#000000" text-anchor="middle" textLength="95.6" lengthAdjust="spacingAndGlyphs">time now</text>
<rect x="268" y="882" width="160" height="40" fill="#00ff00" stroke="none" stroke-width="0"/>
<rect x="432" y="882" width="197" height="40" fill="#ffff00" stroke="none" stroke-width="0"/>
<rect x="629" y="882" width="166" height="40" fill="#ff0000" stroke="none" stroke-width="0"/>
<text x="274.8" y="908.9" font-size="21.53" fill="#000000" text-anchor="start" textLength="144.54" lengthAdjust="spacingAndGlyphs">minor activity</text>
<text x="438" y="908.9" font-size="21.53" fill="#000000" text-anchor="start" textLength="186.04" lengthAdjust="spacingAndGlyphs">moderate activity</text>
<text x="635.8" y="908.9" font-size="21.53" fill="#000000" text-anchor="start" textLength="150.71" lengthAdjust="spacingAndGlyphs">strong activity</text>
<text x="1257.8" y="909.1" font-size="21.95" fill="#000000" text-anchor="start" textLength="183.45" lengthAdjust="spacingAndGlyphs">Current Warning:</text>
<text x="1455.6" y="911.6" font-size="31.71" fill="#000000" text-anchor="start" textLength="79.74" lengthAdjust="spacingAndGlyphs">0.0/9</text>
<rect x="276" y="935" width="409" height="331" fill="#e5e5e5" stroke="none" stroke-width="0"/>
<rect x="1573" y="935" width="341" height="331" fill="#e5e5e5" stroke="none" stroke-width="0"/>
<line x1="1083.66" y1="973" x2="1083.66" y2="1266.2" stroke="#00ffff" stroke-width="3" />
<line x1="275.5" y1="935" x2="275.5" y2="1266.2" stroke="#262626" stroke-width="1" />
<line x1="275.1" y1="1266.5" x2="1914.9" y2="1266.5" stroke="#262626" stroke-width="1" />
<line x1="275.6" y1="1266.5" x2="291.6" y2="1266.5" stroke="#262626" stroke-width="1" />
<text x="264.8" y="1273.7" font-size="22.9" fill="#262626" text-anchor="end" textLength="13.36" lengthAdjust="spacingAndGlyphs">0</text>
<line x1="275.6" y1="1192.5" x2="291.6" y2="1192.5" stroke="#262626" stroke-width="1" />
<text x="264.8" y="1200.1" font-size="22.9" fill="#262626" text-anchor="end" textLength="13.36" lengthAdjust="spacingAndGlyphs">2</text>
<line x1="275.6" y1="1119.5" x2="291.6" y2="1119.5" stroke="#262626" stroke-width="1" />
<text x="264.8" y="1126.5" font-size="22.9" fill="#262626" text-anchor="end" textLength="13.36" lengthAdjust="spacingAndGlyphs">4</text>
<line x1="275.6" y1="1045.5" x2="291.6" y2="1045.5" stroke="#262626" stroke-width="1" />
<text x="264.8" y="1052.9" font-size="22.9" fill="#262626" text-anchor="end" textLength="13.36" lengthAdjust="spacingAndGlyphs">6</text>
<line x1="275.6" y1="971.5" x2="291.6" y2="971.5" stroke="#262626" stroke-width="1" />
<text x="264.8" y="979.3" font-size="22.9" fill="#262626" text-anchor="end" textLength="13.36" lengthAdjust="spacingAndGlyphs">8</text>
<line x1="275.5" y1="1266.2" x2="275.5" y2="1248.7" stroke="#262626" stroke-width="1" />
<text x="275.6" y="1294.8" font-size="22.9" fill="#262626" text-anchor="middle" textLength="13.36" lengthAdjust="spacingAndGlyphs">0</text>
<line x1="343.5" y1="1266.2" x2="343.5" y2="1248.7" stroke="#262626" stroke-width="1" />
<text x="343.88" y="1294.8" font-size="22.9" fill="#262626" text-anchor="middle" textLength="13.36" lengthAdjust="spacingAndGlyphs">1</text>
<line x1="412.5" y1="1266.2" x2="412.5" y2="1248.7" stroke="#262626" stroke-width="1" />
<text x="412.17" y="1294.8" font-size="22.9" fill="#262626" text-anchor="middle" textLength="13.36" lengthAdjust="spacingAndGlyphs">2</text>
<line x1="480.5" y1="1266.2" x2="480.5" y2="1248.7" stroke="#262626" stroke-width="1" />
<text x="480.45" y="1294.8" font-size="22.9" fill="#262626" text-anchor="middle" textLength="13.36" lengthAdjust="spacingAndGlyphs">3</text>
<line x1="548.5" y1="1266.2" x2="548.5" y2="1248.7" stroke="#262626" stroke-width="1" />
<text x="548.73" y="1294.8" font-size="22.9" fill="#262626" text-anchor="middle" textLength="13.36" lengthAdjust="spacingAndGlyphs">4</text>
<line x1="617.5" y1="1266.2" x2="617.5" y2="1248.7" stroke="#262626" stroke-width="1" />
<text x="617.02" y="1294.8" font-size="22.9" fill="#262626" text-anchor="middle" textLength="13.36" lengthAdjust="spacingAndGlyphs">5</text>
<line x1="685.5" y1="1266.2" x2="685.5" y2="1248.7" stroke="#262626" stroke-width="1" />
<text x="685.3" y="1294.8" font-size="22.9" fill="#262626" text-anchor="middle" textLength="13.36" lengthAdjust="spacingAndGlyphs">6</text>
<line x1="753.5" y1="1266.2" x2="753.5" y2="1248.7" stroke="#262626" stroke-width="1" />
<text x="753.58" y="1294.8" font-size="22.9" fill="#262626" text-anchor="middle" textLength="13.36" lengthAdjust="spacingAndGlyphs">7</text>
<line x1="821.5" y1="1266.2" x2="821.5" y2="1248.7" stroke="#262626" stroke-width="1" />
<text x="821.87" y="1294.8" font-size="22.9" fill="#262626" text-anchor="middle" textLength="13.36" lengthAdjust="spacingAndGlyphs">8</text>
<line x1="890.5" y1="1266.2" x2="890.5" y2="1248.7" stroke="#262626" stroke-width="1" />
<text x="890.15" y="1294.8" font-size="22.9" fill="#262626" text-anchor="middle" textLength="13.36" lengthAdjust="spacingAndGlyphs">9</text>
<line x1="958.5" y1="1266.2" x2="958.5" y2="1248.7" stroke="#262626" stroke-width="1" />
<text x="958.43" y="1294.8" font-size="22.9" fill="#262626" text-anchor="middle" textLength="26.72" lengthAdjust="spacingAndGlyphs">10</text>
<line x1="1026.5" y1="1266.2" x2="1026.5" y2="1248.7" stroke="#262626" stroke-width="1" />
<text x="1026.72" y="1294.8" font-size="22.9" fill="#262626" text-anchor="middle" textLength="26.72" lengthAdjust="spacingAndGlyphs">11</text>
<line x1="1095.5" y1="1266.2" x2="1095.5" y2="1248.7" stroke="#262626" stroke-width="1" />
<text x="1095" y="1294.8" font-size="22.9" fill="#262626" text-anchor="middle" textLength="26.72" lengthAdjust="spacingAndGlyphs">12</text>
<line x1="1163.5" y1="1266.2" x2="1163.5" y2="1248.7" stroke="#262626" stroke-width="1" />
<text x="1163.28" y="1294.8" font-size="22.9" fill="#262626" text-anchor="middle" textLength="26.72" lengthAdjust="spacingAndGlyphs">13</text>
<line x1="1231.5" y1="1266.2" x2="1231.5" y2="1248.7" stroke="#262626" stroke-width="1" />
<text x="1231.57" y="1294.8" font-size="22.9" fill="#262626" text-anchor="middle" textLength="26.72" lengthAdjust="spacingAndGlyphs">14</text>
<line x1="1299.5" y1="1266.2" x2="1299.5" y2="1248.7" stroke="#262626" stroke-width="1" />
<text x="1299.85" y="1294.8" font-size="22.9" fill="#262626" text-anchor="middle" textLength="26.72" lengthAdjust="spacingAndGlyphs">15</text>
<line x1="1368.5" y1="1266.2" x2="1368.5" y2="1248.7" stroke="#262626" stroke-width="1" />
<text x="1368.13" y="1294.8" font-size="22.9" fill="#262626" text-anchor="middle" textLength="26.72" lengthAdjust="spacingAndGlyphs">16</text>
<line x1="1436.5" y1="1266.2" x2="1436.5" y2="1248.7" stroke="#262626" stroke-width="1" />
<text x="1436.42" y="1294.8" font-size="22.9" fill="#262626" text-anchor="middle" textLength="26.72" lengthAdjust="spacingAndGlyphs">17</text>
<line x1="1504.5" y1="1266.2" x2="1504.5" y2="1248.7" stroke="#262626" stroke-width="1" />
<text x="1504.7" y="1294.8" font-size="22.9" fill="#262626" text-anchor="middle" textLength="26.72" lengthAdjust="spacingAndGlyphs">18</text>
<line x1="1572.5" y1="1266.2" x2="1572.5" y2="1248.7" stroke="#262626" stroke-width="1" />
<text x="1572.98" y="1294.8" font-size="22.9" fill="#262626" text-anchor="middle" textLength="26.72" lengthAdjust="spacingAndGlyphs">19</text>
<line x1="1641.5" y1="1266.2" x2="1641.5" y2="1248.7" stroke="#262626" stroke-width="1" />
<text x="1641.27" y="1294.8" font-size="22.9" fill="#262626" text-anchor="middle" textLength="26.72" lengthAdjust="spacingAndGlyphs">20</text>
<line x1="1709.5" y1="1266.2" x2="1709.5" y2="1248.7" stroke="#262626" stroke-width="1" />
<text x="1709.55" y="1294.8" font-size="22.9" fill="#262626" text-anchor="middle" textLength="26.72" lengthAdjust="spacingAndGlyphs">21</text>
<line x1="1777.5" y1="1266.2" x2="1777.5" y2="1248.7" stroke="#262626" stroke-width="1" />
<text x="1777.83" y="1294.8" font-size="22.9" fill="#262626" text-anchor="middle" textLength="26.72" lengthAdjust="spacingAndGlyphs">22</text>
<line x1="1846.5" y1="1266.2" x2="1846.5" y2="1248.7" stroke="#262626" stroke-width="1" />
<text x="1846.12" y="1294.8" font-size="22.9" fill="#262626" text-anchor="middle" textLength="26.72" lengthAdjust="spacingAndGlyphs">23</text>
<line x1="1914.5" y1="1266.2" x2="1914.5" y2="1248.7" stroke="#262626" stroke-width="1" />
<text x="1094.5" y="1326.9" font-size="24.04" fill="#262626" text-anchor="middle" textLength="149.15" lengthAdjust="spacingAndGlyphs">Time UTC / h</text>
<text transform="translate(239,1101.8) rotate(-90)" x="0" y="0" font-size="24.15" fill="#262626" text-anchor="middle" textLength="180.56" lengthAdjust="spacingAndGlyphs">Warning Values</text>
<rect x="1077.5" y="933.5" width="110" height="40" fill="#ffffff" stroke="#00ffff" stroke-width="1"/>
<text x="1132.6" y="961" font-size="21.63" fill="#000000" text-anchor="middle" textLength="95.6" lengthAdjust="spacingAndGlyphs">time now</text>
<text x="1096.8" y="1358.8" font-size="21.63" fill="#000000" text-anchor="middle" textLength="496.23" lengthAdjust="spacingAndGlyphs">Last updated: Sun 16 Nov 2025 00:50:37 NZDT</text>
</svg></body></html>
